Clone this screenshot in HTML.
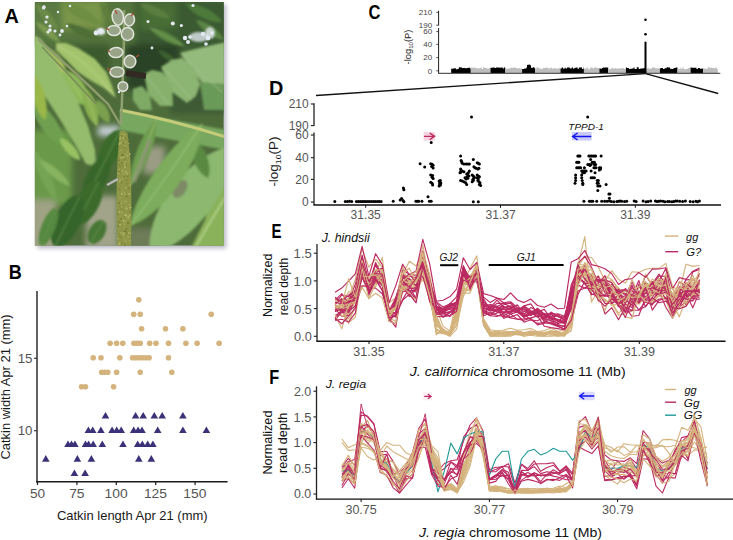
<!DOCTYPE html>
<html><head><meta charset="utf-8"><style>
html,body{margin:0;padding:0;background:#fff;width:733px;height:540px;overflow:hidden}
svg{display:block;font-family:"Liberation Sans",sans-serif}
</style></head><body>
<svg width="733" height="540" viewBox="0 0 733 540" font-family="Liberation Sans, sans-serif">
<defs><clipPath id="pc"><rect x="34.8" y="1.9" width="189" height="243.8"/></clipPath><filter id="sh" x="-10%" y="-10%" width="130%" height="130%"><feGaussianBlur stdDeviation="2"/></filter><filter id="b3" x="-20%" y="-20%" width="140%" height="140%"><feGaussianBlur stdDeviation="3"/></filter><filter id="b1" x="-20%" y="-20%" width="140%" height="140%"><feGaussianBlur stdDeviation="0.9"/></filter><filter id="b2" x="-20%" y="-20%" width="140%" height="140%"><feGaussianBlur stdDeviation="2"/></filter><filter id="b05" x="-20%" y="-20%" width="140%" height="140%"><feGaussianBlur stdDeviation="0.5"/></filter></defs>
<rect x="37.3" y="4.6" width="189" height="243.8" fill="#8c8ca4" opacity="0.6" filter="url(#sh)"/>
<g clip-path="url(#pc)">
<rect x="34.8" y="1.9" width="189" height="243.8" fill="#4e6c3a"/>
<g filter="url(#b3)">
<polygon points="30.0,0.0 230.0,0.0 230.0,46.0 30.0,46.0" fill="#55743e" opacity="1"/>
<polygon points="30.0,0.0 62.0,0.0 62.0,36.0 30.0,36.0" fill="#5a7a42" opacity="1"/>
<polygon points="62.0,0.0 104.0,0.0 104.0,28.0 62.0,30.0" fill="#7a9648" opacity="1"/>
<polygon points="135.0,0.0 230.0,0.0 230.0,48.0 135.0,52.0" fill="#3a5a30" opacity="1"/>
<polygon points="140.0,2.0 176.0,2.0 176.0,28.0 140.0,30.0" fill="#4a6e36" opacity="1"/>
<polygon points="126.0,44.0 180.0,44.0 180.0,90.0 126.0,90.0" fill="#2c4226" opacity="1"/>
<polygon points="62.0,44.0 110.0,44.0 110.0,70.0 62.0,70.0" fill="#3a5a2e" opacity="1"/>
<polygon points="170.0,88.0 226.0,88.0 226.0,114.0 170.0,114.0" fill="#3e5a36" opacity="1"/>
<polygon points="30.0,130.0 72.0,130.0 72.0,206.0 30.0,206.0" fill="#6a9a4a" opacity="1"/>
<polygon points="30.0,200.0 56.0,200.0 56.0,250.0 30.0,250.0" fill="#a0a284" opacity="1"/>
<polygon points="86.0,196.0 118.0,196.0 118.0,250.0 86.0,250.0" fill="#a2a48a" opacity="1"/>
<polygon points="126.0,228.0 158.0,228.0 158.0,250.0 126.0,250.0" fill="#6e7c58" opacity="1"/>
<polygon points="143.0,146.0 165.0,146.0 165.0,174.0 143.0,174.0" fill="#9a9c84" opacity="1"/>
<polygon points="98.0,126.0 120.0,126.0 120.0,136.0 98.0,136.0" fill="#c8d0d8" opacity="1"/>
</g>
<g filter="url(#b1)">
<path d="M36.0,4.0 C36.3,13.6 48.6,28.2 58.0,30.0 C57.7,20.4 45.4,5.8 36.0,4.0Z" fill="#6a8a48" opacity="1"/>
<path d="M62.0,2.0 C66.7,13.2 88.0,25.5 100.0,24.0 C95.3,12.8 74.0,0.5 62.0,2.0Z" fill="#6e8e42" opacity="1"/>
<path d="M150.0,28.0 C155.0,36.7 174.0,46.8 184.0,46.0 C179.0,37.3 160.0,27.2 150.0,28.0Z" fill="#5c8842" opacity="1"/>
<path d="M150.0,28.0 Q167.0,37.0 184.0,46.0" stroke="#7aa060" stroke-width="1.0" fill="none"/>
<path d="M186.0,4.0 C190.9,13.9 211.1,24.0 222.0,22.0 C217.1,12.1 196.9,2.0 186.0,4.0Z" fill="#4e7a3a" opacity="1"/>
<path d="M196.0,20.0 C199.1,28.7 214.7,39.9 224.0,40.0 C220.9,31.3 205.3,20.1 196.0,20.0Z" fill="#5a8444" opacity="1"/>
<path d="M140.0,4.0 C144.3,11.9 161.1,19.8 170.0,18.0 C165.7,10.1 148.9,2.2 140.0,4.0Z" fill="#5a7e40" opacity="1"/>
<path d="M66.0,24.0 C71.2,32.3 90.2,41.3 100.0,40.0 C94.8,31.7 75.8,22.7 66.0,24.0Z" fill="#4e6e36" opacity="1"/>
<path d="M36.0,22.0 C38.3,30.0 51.7,41.2 60.0,42.0 C57.7,34.0 44.3,22.8 36.0,22.0Z" fill="#7a9a50" opacity="1"/>
<path d="M100.0,2.0 C100.0,10.1 109.0,25.8 116.0,30.0 C116.0,21.9 107.0,6.2 100.0,2.0Z" fill="#5e7e3e" opacity="1"/>
<path d="M158.0,50.0 C160.1,56.4 171.3,64.2 178.0,64.0 C175.9,57.6 164.7,49.8 158.0,50.0Z" fill="#3e6030" opacity="1"/>
<path d="M210.0,52.0 C212.0,56.7 221.0,61.2 226.0,60.0 C224.0,55.3 215.0,50.8 210.0,52.0Z" fill="#7ea468" opacity="1"/>
<path d="M42.0,47.0 C40.2,59.2 53.6,74.9 66.0,75.0 C67.8,62.8 54.4,47.1 42.0,47.0Z" fill="#a2ba5a" opacity="1"/>
<path d="M42.0,47.0 Q54.0,61.0 66.0,75.0" stroke="#c0d080" stroke-width="1.0" fill="none"/>
<polygon points="180.0,53.0 204.0,47.0 226.0,42.0 226.0,96.0 212.0,92.0 200.0,80.0" fill="#94ba7c" opacity="1"/>
<polygon points="161.0,67.0 172.0,60.0 182.0,58.0 194.0,68.0 200.0,84.0 196.0,96.0 187.0,103.0 172.0,92.0" fill="#8cb472" opacity="1"/>
<polygon points="144.0,74.0 152.0,70.0 162.0,72.0 172.0,86.0 173.0,106.0 160.0,106.0 148.0,94.0" fill="#86b06c" opacity="1"/>
<polygon points="133.0,89.0 142.0,86.0 150.0,96.0 152.0,110.0 140.0,110.0 133.0,100.0" fill="#7eaa66" opacity="1"/>
<polygon points="200.0,82.0 226.0,84.0 226.0,110.0 204.0,110.0" fill="#6a9a58" opacity="1"/>
<path d="M182,56 L222,92 M164,68 L192,100 M146,76 L168,104" stroke="#a8c890" stroke-width="0.8" fill="none"/>
<polygon points="120.0,110.0 226.0,130.0 226.0,150.0 120.0,130.0" fill="#78a860" opacity="1"/>
<polygon points="56.0,43.0 66.0,43.0 78.0,48.0 95.0,59.0 106.0,72.0 112.0,86.0 116.0,98.0 104.0,88.0 90.0,80.0 78.0,72.0 66.0,60.0 56.0,50.0" fill="#a2c26c" opacity="1"/>
<path d="M58,46 Q90,62 114,96" stroke="#c4da92" stroke-width="1" fill="none"/>
<path d="M64.0,70.0 C58.9,84.4 71.8,104.5 87.0,106.0 C92.1,91.6 79.2,71.5 64.0,70.0Z" fill="#8cb858" opacity="1"/>
<path d="M64.0,70.0 Q75.5,88.0 87.0,106.0" stroke="#b0cc78" stroke-width="1.0" fill="none"/>
<path d="M84.0,87.0 C79.3,98.1 86.5,120.0 97.0,126.0 C101.7,114.9 94.5,93.0 84.0,87.0Z" fill="#88b050" opacity="1"/>
<path d="M84.0,87.0 Q90.5,106.5 97.0,126.0" stroke="#a8c070" stroke-width="1.0" fill="none"/>
<path d="M97.0,100.0 C93.7,108.1 100.4,121.0 109.0,123.0 C112.3,114.9 105.6,102.0 97.0,100.0Z" fill="#7aa050" opacity="1"/>
<path d="M32.0,100.0 C30.3,116.2 48.2,142.0 64.0,146.0 C65.7,129.8 47.8,104.0 32.0,100.0Z" fill="#70a050" opacity="1"/>
<path d="M60.0,138.0 C60.0,146.9 71.2,159.2 80.0,160.0 C80.0,151.1 68.8,138.8 60.0,138.0Z" fill="#98c262" opacity="1"/>
<path d="M34.0,150.0 C32.7,163.7 45.1,191.7 56.0,200.0 C57.3,186.3 44.9,158.3 34.0,150.0Z" fill="#76a454" opacity="1"/>
<path d="M40.0,160.0 C43.1,169.8 59.9,184.3 70.0,186.0 C66.9,176.2 50.1,161.7 40.0,160.0Z" fill="#88b460" opacity="1"/>
<polygon points="34.0,35.0 41.0,39.0 52.0,56.0 66.0,80.0 78.0,102.0 88.0,126.0 95.0,150.0 96.0,166.0 86.0,164.0 76.0,146.0 64.0,126.0 50.0,104.0 38.0,86.0 34.0,80.0" fill="#94bc6c" opacity="1"/>
<path d="M33.0,74.0 C27.9,86.1 34.6,111.9 45.0,120.0 C50.1,107.9 43.4,82.1 33.0,74.0Z" fill="#9ab84a" opacity="1"/>
<polygon points="226.0,150.0 226.0,250.0 190.0,250.0 205.0,220.0" fill="#8ab25a" opacity="1"/>
<path d="M234.0,146.0 C190.8,150.5 143.7,211.0 150.0,254.0 C190.1,247.0 237.1,186.6 234.0,146.0Z" fill="#8cb870" opacity="1"/>
<ellipse cx="180" cy="189" rx="6" ry="10" transform="rotate(35 180 189)" fill="#7e8a66"/>
<path d="M192.0,138.0 C186.8,150.3 195.8,172.7 208.0,178.0 C213.2,165.7 204.2,143.3 192.0,138.0Z" fill="#5a8a42" opacity="1"/>
<path d="M202.0,124.0 C173.9,137.8 133.6,194.9 130.0,226.0 C163.0,215.7 203.3,158.6 202.0,124.0Z" fill="#7cac5c" opacity="1"/>
<path d="M202.0,124.0 Q168.5,176.7 130.0,226.0" stroke="#a8c880" stroke-width="1.0" fill="none"/>
<path d="M157.0,118.0 C143.0,129.8 127.9,167.8 130.0,186.0 C144.0,174.2 159.1,136.2 157.0,118.0Z" fill="#6e9e50" opacity="1"/>
<path d="M157.0,118.0 Q143.5,152.0 130.0,186.0" stroke="#9cc070" stroke-width="1.0" fill="none"/>
<path d="M195,248 Q210,222 226,196" stroke="#b4d28a" stroke-width="1.6" fill="none"/>
<ellipse cx="110.5" cy="150" rx="22" ry="9.5" transform="rotate(116 110.5 150)" fill="#3a6a2c"/>
<path d="M120.1,130.2 L100.9,169.8" stroke="#6a9a50" stroke-width="0.8"/>
<ellipse cx="96.8" cy="177.5" rx="23" ry="10.5" transform="rotate(116 96.8 177.5)" fill="#37662a"/>
<path d="M106.9,156.8 L86.7,198.2" stroke="#6a9a50" stroke-width="0.8"/>
<ellipse cx="87.5" cy="203" rx="24" ry="11.5" transform="rotate(118 87.5 203)" fill="#3a6a2c"/>
<path d="M98.8,181.8 L76.2,224.2" stroke="#6a9a50" stroke-width="0.8"/>
<ellipse cx="67.6" cy="221" rx="28" ry="12.5" transform="rotate(116 67.6 221)" fill="#35652a"/>
<path d="M79.9,195.8 L55.3,246.2" stroke="#6a9a50" stroke-width="0.8"/>
<ellipse cx="48.5" cy="227" rx="20" ry="7" transform="rotate(112 48.5 227)" fill="#558840"/>
<path d="M56.0,208.5 L41.0,245.5" stroke="#6a9a50" stroke-width="0.8"/>
<ellipse cx="97" cy="232" rx="13" ry="8" transform="rotate(120 97 232)" fill="#467636"/>
<path d="M103.5,220.7 L90.5,243.3" stroke="#6a9a50" stroke-width="0.8"/>
<path d="M150,140 Q142,160 134,182" stroke="#8e9478" stroke-width="4" fill="none" opacity="0.8"/>
</g>
<g filter="url(#b05)">
<path d="M119.5,132 Q123,129 127.5,133 L130.5,160 Q132,200 131,246 L117.5,246 Q115.5,200 117.5,160 Z" fill="#8e9646"/>
<circle cx="119.0" cy="160.2" r="0.8" fill="#747a38"/>
<circle cx="119.2" cy="144.0" r="0.9" fill="#a4aa5a"/>
<circle cx="127.4" cy="222.9" r="0.7" fill="#a4aa5a"/>
<circle cx="119.7" cy="164.7" r="0.7" fill="#747a38"/>
<circle cx="117.8" cy="238.7" r="0.9" fill="#a4aa5a"/>
<circle cx="120.0" cy="222.8" r="0.8" fill="#a4aa5a"/>
<circle cx="125.1" cy="143.6" r="0.9" fill="#747a38"/>
<circle cx="123.7" cy="153.7" r="0.6" fill="#a4aa5a"/>
<circle cx="122.2" cy="134.8" r="1.0" fill="#a4aa5a"/>
<circle cx="124.1" cy="228.1" r="0.8" fill="#a4aa5a"/>
<circle cx="119.6" cy="181.8" r="0.8" fill="#b0b468"/>
<circle cx="123.6" cy="143.0" r="1.1" fill="#848a40"/>
<circle cx="119.4" cy="211.8" r="0.9" fill="#b0b468"/>
<circle cx="120.1" cy="179.8" r="0.9" fill="#a4aa5a"/>
<circle cx="123.2" cy="154.4" r="0.9" fill="#747a38"/>
<circle cx="118.8" cy="234.4" r="0.6" fill="#747a38"/>
<circle cx="125.1" cy="164.8" r="1.0" fill="#b0b468"/>
<circle cx="119.8" cy="170.7" r="0.8" fill="#b0b468"/>
<circle cx="118.6" cy="173.6" r="1.1" fill="#a4aa5a"/>
<circle cx="130.0" cy="215.6" r="0.6" fill="#a4aa5a"/>
<circle cx="119.5" cy="169.7" r="0.9" fill="#b0b468"/>
<circle cx="120.0" cy="166.6" r="0.8" fill="#747a38"/>
<circle cx="125.3" cy="161.8" r="0.7" fill="#b0b468"/>
<circle cx="123.4" cy="174.3" r="0.8" fill="#a4aa5a"/>
<circle cx="124.9" cy="244.7" r="0.8" fill="#747a38"/>
<circle cx="120.2" cy="181.1" r="0.6" fill="#b0b468"/>
<circle cx="125.2" cy="215.8" r="1.1" fill="#b0b468"/>
<circle cx="125.1" cy="194.6" r="0.8" fill="#b0b468"/>
<circle cx="124.3" cy="147.6" r="1.0" fill="#848a40"/>
<circle cx="120.1" cy="206.3" r="0.7" fill="#848a40"/>
<circle cx="118.0" cy="179.6" r="0.8" fill="#747a38"/>
<circle cx="123.1" cy="205.9" r="0.7" fill="#747a38"/>
<circle cx="121.8" cy="137.5" r="0.7" fill="#747a38"/>
<circle cx="122.9" cy="219.7" r="0.7" fill="#a4aa5a"/>
<circle cx="128.0" cy="139.7" r="0.9" fill="#848a40"/>
<circle cx="126.0" cy="240.9" r="1.0" fill="#b0b468"/>
<circle cx="118.7" cy="188.9" r="0.7" fill="#747a38"/>
<circle cx="126.0" cy="171.4" r="1.0" fill="#a4aa5a"/>
<circle cx="124.4" cy="224.4" r="0.9" fill="#a4aa5a"/>
<circle cx="122.6" cy="171.6" r="0.8" fill="#a4aa5a"/>
<circle cx="126.2" cy="240.8" r="0.6" fill="#747a38"/>
<circle cx="121.0" cy="219.1" r="1.0" fill="#747a38"/>
<circle cx="123.5" cy="210.4" r="0.8" fill="#848a40"/>
<circle cx="120.3" cy="237.0" r="0.6" fill="#747a38"/>
<circle cx="127.2" cy="135.5" r="0.7" fill="#848a40"/>
<circle cx="124.7" cy="231.4" r="1.0" fill="#747a38"/>
<circle cx="125.2" cy="152.0" r="1.0" fill="#848a40"/>
<circle cx="123.2" cy="235.6" r="0.6" fill="#b0b468"/>
<circle cx="128.7" cy="188.3" r="0.9" fill="#747a38"/>
<circle cx="120.2" cy="138.6" r="1.0" fill="#b0b468"/>
<circle cx="122.0" cy="167.0" r="0.6" fill="#848a40"/>
<circle cx="127.7" cy="176.3" r="0.8" fill="#747a38"/>
<circle cx="128.6" cy="218.2" r="0.8" fill="#b0b468"/>
<circle cx="125.3" cy="146.7" r="1.0" fill="#848a40"/>
<circle cx="126.7" cy="180.2" r="0.8" fill="#747a38"/>
<circle cx="129.6" cy="204.7" r="0.8" fill="#b0b468"/>
<circle cx="119.7" cy="222.6" r="1.0" fill="#747a38"/>
<circle cx="121.7" cy="212.4" r="1.0" fill="#a4aa5a"/>
<circle cx="129.3" cy="194.1" r="1.0" fill="#b0b468"/>
<circle cx="119.1" cy="205.9" r="0.7" fill="#848a40"/>
<circle cx="124.3" cy="192.4" r="0.8" fill="#a4aa5a"/>
<circle cx="127.5" cy="173.6" r="1.1" fill="#b0b468"/>
<circle cx="125.4" cy="209.1" r="0.8" fill="#848a40"/>
<circle cx="124.9" cy="220.9" r="1.1" fill="#848a40"/>
<circle cx="123.2" cy="202.0" r="0.7" fill="#a4aa5a"/>
<circle cx="121.9" cy="243.4" r="0.8" fill="#747a38"/>
<circle cx="125.6" cy="209.0" r="0.7" fill="#a4aa5a"/>
<circle cx="127.5" cy="155.9" r="0.9" fill="#b0b468"/>
<circle cx="125.4" cy="142.6" r="1.1" fill="#a4aa5a"/>
<circle cx="121.7" cy="206.6" r="0.8" fill="#b0b468"/>
<circle cx="124.3" cy="201.0" r="1.0" fill="#b0b468"/>
<circle cx="128.0" cy="222.9" r="1.1" fill="#747a38"/>
<circle cx="129.7" cy="154.2" r="0.9" fill="#b0b468"/>
<circle cx="130.1" cy="218.4" r="0.7" fill="#848a40"/>
<circle cx="127.2" cy="209.0" r="0.9" fill="#a4aa5a"/>
<circle cx="126.4" cy="228.7" r="1.0" fill="#747a38"/>
<circle cx="126.6" cy="233.6" r="0.8" fill="#747a38"/>
<circle cx="124.5" cy="216.8" r="0.9" fill="#848a40"/>
<circle cx="122.7" cy="233.8" r="0.8" fill="#a4aa5a"/>
<circle cx="122.9" cy="165.5" r="0.6" fill="#747a38"/>
<circle cx="123.5" cy="233.6" r="0.9" fill="#a4aa5a"/>
<circle cx="122.6" cy="178.9" r="0.6" fill="#b0b468"/>
<circle cx="130.0" cy="184.9" r="0.9" fill="#a4aa5a"/>
<circle cx="121.6" cy="201.0" r="0.6" fill="#a4aa5a"/>
<circle cx="125.8" cy="187.7" r="0.8" fill="#b0b468"/>
<circle cx="121.1" cy="150.5" r="0.7" fill="#b0b468"/>
<circle cx="127.3" cy="152.1" r="0.9" fill="#a4aa5a"/>
<circle cx="121.8" cy="136.1" r="1.0" fill="#747a38"/>
<circle cx="122.4" cy="137.5" r="0.7" fill="#b0b468"/>
<circle cx="125.9" cy="231.5" r="0.9" fill="#747a38"/>
<circle cx="126.0" cy="215.2" r="1.1" fill="#b0b468"/>
<circle cx="126.5" cy="196.2" r="1.0" fill="#747a38"/>
<circle cx="119.5" cy="189.8" r="1.0" fill="#848a40"/>
<circle cx="122.4" cy="190.3" r="0.7" fill="#a4aa5a"/>
<circle cx="124.5" cy="191.1" r="0.8" fill="#848a40"/>
<circle cx="122.5" cy="170.5" r="0.8" fill="#b0b468"/>
<circle cx="126.3" cy="164.9" r="0.8" fill="#747a38"/>
<circle cx="120.2" cy="143.5" r="0.9" fill="#b0b468"/>
<circle cx="124.7" cy="159.8" r="0.8" fill="#747a38"/>
<circle cx="123.4" cy="232.3" r="1.0" fill="#848a40"/>
<circle cx="119.7" cy="171.3" r="0.9" fill="#747a38"/>
<circle cx="125.2" cy="145.9" r="1.1" fill="#a4aa5a"/>
<circle cx="128.3" cy="237.3" r="0.8" fill="#b0b468"/>
<circle cx="120.3" cy="225.1" r="0.9" fill="#a4aa5a"/>
<circle cx="123.7" cy="221.1" r="1.0" fill="#b0b468"/>
<circle cx="129.1" cy="233.0" r="1.0" fill="#b0b468"/>
<circle cx="124.4" cy="201.1" r="1.1" fill="#a4aa5a"/>
<circle cx="119.8" cy="237.0" r="0.6" fill="#747a38"/>
<circle cx="125.6" cy="138.3" r="0.8" fill="#747a38"/>
<circle cx="119.0" cy="211.3" r="1.1" fill="#b0b468"/>
<circle cx="121.4" cy="141.9" r="0.7" fill="#b0b468"/>
<circle cx="130.2" cy="232.9" r="0.6" fill="#747a38"/>
<circle cx="120.9" cy="157.7" r="1.0" fill="#a4aa5a"/>
<circle cx="121.4" cy="224.6" r="0.8" fill="#848a40"/>
<circle cx="123.2" cy="137.8" r="1.1" fill="#a4aa5a"/>
<circle cx="121.2" cy="196.1" r="0.7" fill="#848a40"/>
<circle cx="120.3" cy="169.7" r="0.8" fill="#848a40"/>
<circle cx="121.1" cy="237.4" r="1.0" fill="#848a40"/>
<circle cx="129.6" cy="239.4" r="0.8" fill="#747a38"/>
<circle cx="124.1" cy="162.4" r="0.6" fill="#a4aa5a"/>
<circle cx="126.3" cy="201.6" r="0.9" fill="#a4aa5a"/>
<circle cx="128.8" cy="143.6" r="0.7" fill="#b0b468"/>
<circle cx="129.6" cy="211.8" r="0.7" fill="#747a38"/>
<circle cx="124.0" cy="232.9" r="0.7" fill="#a4aa5a"/>
<circle cx="124.6" cy="134.9" r="0.7" fill="#b0b468"/>
<circle cx="128.4" cy="161.1" r="0.7" fill="#a4aa5a"/>
<circle cx="124.9" cy="166.9" r="0.9" fill="#b0b468"/>
<circle cx="130.4" cy="207.4" r="1.0" fill="#b0b468"/>
<circle cx="127.9" cy="217.9" r="0.9" fill="#a4aa5a"/>
<circle cx="122.4" cy="137.9" r="0.8" fill="#a4aa5a"/>
<circle cx="119.6" cy="243.5" r="1.0" fill="#b0b468"/>
<circle cx="129.9" cy="240.1" r="0.9" fill="#b0b468"/>
<circle cx="120.9" cy="208.7" r="1.1" fill="#848a40"/>
<circle cx="120.9" cy="145.6" r="0.7" fill="#848a40"/>
<circle cx="123.9" cy="200.8" r="0.8" fill="#848a40"/>
<circle cx="128.4" cy="216.6" r="1.0" fill="#b0b468"/>
<circle cx="122.3" cy="154.1" r="0.7" fill="#a4aa5a"/>
<circle cx="120.0" cy="197.7" r="0.9" fill="#a4aa5a"/>
<circle cx="124.5" cy="176.6" r="0.7" fill="#747a38"/>
<circle cx="122.2" cy="155.2" r="1.1" fill="#747a38"/>
<circle cx="120.7" cy="136.4" r="0.7" fill="#a4aa5a"/>
<circle cx="124.0" cy="238.2" r="0.6" fill="#a4aa5a"/>
<circle cx="127.9" cy="222.8" r="0.7" fill="#848a40"/>
<circle cx="122.1" cy="202.5" r="0.6" fill="#747a38"/>
<circle cx="127.2" cy="183.7" r="1.1" fill="#848a40"/>
<circle cx="121.9" cy="157.5" r="0.9" fill="#b0b468"/>
<circle cx="123.8" cy="233.3" r="1.1" fill="#b0b468"/>
<circle cx="125.3" cy="154.1" r="0.9" fill="#b0b468"/>
<circle cx="117.8" cy="214.4" r="0.8" fill="#747a38"/>
<circle cx="119.2" cy="203.0" r="0.9" fill="#747a38"/>
<circle cx="121.6" cy="182.3" r="0.9" fill="#747a38"/>
<circle cx="129.6" cy="215.0" r="1.0" fill="#a4aa5a"/>
<circle cx="121.9" cy="162.6" r="0.9" fill="#747a38"/>
<circle cx="128.7" cy="174.6" r="0.7" fill="#848a40"/>
<circle cx="118.5" cy="226.0" r="0.9" fill="#747a38"/>
<circle cx="119.4" cy="243.6" r="1.0" fill="#b0b468"/>
<circle cx="122.0" cy="193.8" r="1.1" fill="#b0b468"/>
<circle cx="125.4" cy="221.1" r="0.9" fill="#a4aa5a"/>
<circle cx="121.3" cy="203.4" r="1.0" fill="#a4aa5a"/>
<circle cx="123.7" cy="157.2" r="0.7" fill="#b0b468"/>
<circle cx="121.2" cy="232.6" r="0.8" fill="#b0b468"/>
<circle cx="125.3" cy="172.5" r="1.1" fill="#a4aa5a"/>
<circle cx="123.4" cy="142.0" r="0.6" fill="#848a40"/>
<circle cx="117.9" cy="221.6" r="0.7" fill="#747a38"/>
<circle cx="120.1" cy="224.8" r="1.1" fill="#b0b468"/>
<circle cx="117.6" cy="244.8" r="0.6" fill="#a4aa5a"/>
<circle cx="124.3" cy="191.7" r="0.6" fill="#a4aa5a"/>
<circle cx="125.7" cy="208.1" r="0.9" fill="#b0b468"/>
<circle cx="118.3" cy="210.6" r="0.8" fill="#747a38"/>
<circle cx="130.0" cy="233.0" r="0.9" fill="#a4aa5a"/>
<path d="M38,39 Q75,72 108,104 L120,124" stroke="#8e9c6c" stroke-width="2.4" fill="none"/>
<path d="M42,47 Q72,78 96,104" stroke="#7c8c5c" stroke-width="1.6" fill="none"/>
<path d="M120,110 Q172,120 226,137" stroke="#c4cc7a" stroke-width="3" fill="none"/>
<path d="M126,73 L146,76" stroke="#302a20" stroke-width="6" fill="none"/>
<path d="M107,185 L118,179" stroke="#b8b8b8" stroke-width="2.5" fill="none"/>
<circle cx="43.6" cy="8" r="1.6" fill="#e4eaf2"/>
<circle cx="46" cy="22" r="1.5" fill="#e4eaf2"/>
<circle cx="50" cy="30" r="1.8" fill="#e4eaf2"/>
<circle cx="55" cy="31" r="1.6" fill="#e4eaf2"/>
<circle cx="60" cy="35" r="1.4" fill="#e4eaf2"/>
<circle cx="67" cy="26" r="1.3" fill="#e4eaf2"/>
<circle cx="58" cy="12" r="1.2" fill="#e4eaf2"/>
<circle cx="44" cy="7" r="1.8" fill="#e4eaf2"/>
<circle cx="47" cy="17" r="1.6" fill="#e4eaf2"/>
<circle cx="50" cy="26" r="1.6" fill="#e4eaf2"/>
<circle cx="48" cy="32" r="1.5" fill="#e4eaf2"/>
<circle cx="62" cy="31" r="1.9" fill="#e4eaf2"/>
<circle cx="70" cy="6" r="1.3" fill="#e4eaf2"/>
<circle cx="96" cy="33" r="2.4" fill="#e4eaf2"/>
<circle cx="101" cy="31" r="2.4" fill="#e4eaf2"/>
<circle cx="172.8" cy="23.5" r="2" fill="#e4eaf2"/>
<circle cx="181.4" cy="25.5" r="1.6" fill="#e4eaf2"/>
<circle cx="193" cy="5.5" r="1.6" fill="#e4eaf2"/>
<circle cx="148" cy="21.5" r="1.5" fill="#e4eaf2"/>
<circle cx="185" cy="38" r="2.2" fill="#e4eaf2"/>
<circle cx="188" cy="42" r="2" fill="#e4eaf2"/>
<circle cx="203" cy="34" r="2.2" fill="#e4eaf2"/>
<circle cx="208" cy="38" r="2.4" fill="#e4eaf2"/>
<circle cx="212" cy="33" r="1.8" fill="#e4eaf2"/>
<circle cx="206" cy="44" r="1.8" fill="#e4eaf2"/>
<circle cx="152" cy="48" r="1.4" fill="#e4eaf2"/>
<circle cx="190" cy="37" r="1.8" fill="#e4eaf2"/>
<circle cx="119" cy="92" r="1.2" fill="#e4eaf2"/>
<g filter="url(#b1)"><ellipse cx="100.8" cy="31.4" rx="4.5" ry="3.5" fill="#e6ecf4"/><ellipse cx="199" cy="37" rx="10" ry="5" fill="#dfe6ee" opacity="0.8"/><ellipse cx="210" cy="33" rx="5" ry="6" fill="#e6ecf4" opacity="0.8"/></g>
<path d="M124,10 L124,40 L123,70 L122,100 L121,125" stroke="#8ea070" stroke-width="2.5" fill="none"/>
<ellipse cx="129.5" cy="20" rx="5" ry="6" transform="rotate(10 129.5 20)" fill="#98a488" stroke="#e2e6dc" stroke-width="1.5"/>
<ellipse cx="117.8" cy="17" rx="5.6" ry="8.2" transform="rotate(-8 117.8 17)" fill="#98a488" stroke="#e2e6dc" stroke-width="1.5"/>
<ellipse cx="114" cy="30.5" rx="6.5" ry="5" transform="rotate(0 114 30.5)" fill="#98a488" stroke="#e2e6dc" stroke-width="1.5"/>
<ellipse cx="127.5" cy="34" rx="6.2" ry="6.4" transform="rotate(0 127.5 34)" fill="#98a488" stroke="#e2e6dc" stroke-width="1.5"/>
<ellipse cx="116" cy="52.5" rx="7" ry="5" transform="rotate(-5 116 52.5)" fill="#98a488" stroke="#e2e6dc" stroke-width="1.5"/>
<ellipse cx="130" cy="61.5" rx="5.8" ry="6.2" transform="rotate(10 130 61.5)" fill="#98a488" stroke="#e2e6dc" stroke-width="1.5"/>
<ellipse cx="117" cy="72" rx="7" ry="5" transform="rotate(0 117 72)" fill="#98a488" stroke="#e2e6dc" stroke-width="1.5"/>
<ellipse cx="122.9" cy="86.5" rx="4.8" ry="4.8" transform="rotate(0 122.9 86.5)" fill="#98a488" stroke="#e2e6dc" stroke-width="1.5"/>
<path d="M115,10 L117,14" stroke="#a8503c" stroke-width="1.4"/>
<path d="M106,28 L109,30" stroke="#a8503c" stroke-width="1.4"/>
<path d="M108,50 L110,52" stroke="#a8503c" stroke-width="1.4"/>
<path d="M108,68 L110,71" stroke="#a8503c" stroke-width="1.4"/>
<path d="M136,57 L139,55" stroke="#a8503c" stroke-width="1.4"/>
<path d="M131,16 L134,13" stroke="#a8503c" stroke-width="1.4"/>
</g>
</g>
<text x="4.50" y="23.30" font-size="20.5" fill="#000" textLength="14.34" lengthAdjust="spacingAndGlyphs" ><tspan font-weight="bold">A</tspan></text>
<text x="8.83" y="278.90" font-size="20.5" fill="#000" textLength="13.02" lengthAdjust="spacingAndGlyphs" ><tspan font-weight="bold">B</tspan></text>
<text x="368.54" y="18.60" font-size="20.5" fill="#000" textLength="11.91" lengthAdjust="spacingAndGlyphs" ><tspan font-weight="bold">C</tspan></text>
<text x="269.01" y="94.70" font-size="20.5" fill="#000" textLength="14.33" lengthAdjust="spacingAndGlyphs" ><tspan font-weight="bold">D</tspan></text>
<text x="271.52" y="237.80" font-size="20.5" fill="#000" textLength="10.03" lengthAdjust="spacingAndGlyphs" ><tspan font-weight="bold">E</tspan></text>
<text x="269.24" y="383.90" font-size="20.5" fill="#000" textLength="9.94" lengthAdjust="spacingAndGlyphs" ><tspan font-weight="bold">F</tspan></text>
<line x1="37.0" y1="291.0" x2="37.0" y2="482.5" stroke="#3a3a3a" stroke-width="1.6" />
<line x1="36.2" y1="481.8" x2="227.6" y2="481.8" stroke="#1a1a1a" stroke-width="1.4" />
<line x1="34.0" y1="358.3" x2="37.0" y2="358.3" stroke="#3a3a3a" stroke-width="1.2" />
<text x="17.70" y="362.90" font-size="13.5" fill="#555" textLength="14.87" lengthAdjust="spacingAndGlyphs" ><tspan>15</tspan></text>
<line x1="34.0" y1="430.7" x2="37.0" y2="430.7" stroke="#3a3a3a" stroke-width="1.2" />
<text x="17.70" y="435.30" font-size="13.5" fill="#555" textLength="14.79" lengthAdjust="spacingAndGlyphs" ><tspan>10</tspan></text>
<line x1="37.5" y1="481.8" x2="37.5" y2="485.0" stroke="#1a1a1a" stroke-width="1.2" />
<text x="29.91" y="497.70" font-size="13.6" fill="#555" textLength="15.15" lengthAdjust="spacingAndGlyphs" ><tspan>50</tspan></text>
<line x1="76.9" y1="481.8" x2="76.9" y2="485.0" stroke="#1a1a1a" stroke-width="1.2" />
<text x="69.16" y="497.70" font-size="13.6" fill="#555" textLength="15.38" lengthAdjust="spacingAndGlyphs" ><tspan>75</tspan></text>
<line x1="116.3" y1="481.8" x2="116.3" y2="485.0" stroke="#1a1a1a" stroke-width="1.2" />
<text x="104.51" y="497.70" font-size="13.6" fill="#555" textLength="23.07" lengthAdjust="spacingAndGlyphs" ><tspan>100</tspan></text>
<line x1="155.7" y1="481.8" x2="155.7" y2="485.0" stroke="#1a1a1a" stroke-width="1.2" />
<text x="143.91" y="497.70" font-size="13.6" fill="#555" textLength="23.14" lengthAdjust="spacingAndGlyphs" ><tspan>125</tspan></text>
<line x1="195.1" y1="481.8" x2="195.1" y2="485.0" stroke="#1a1a1a" stroke-width="1.2" />
<text x="183.31" y="497.70" font-size="13.6" fill="#555" textLength="23.07" lengthAdjust="spacingAndGlyphs" ><tspan>150</tspan></text>
<text x="56.95" y="519.70" font-size="12.8" fill="#1a1a1a" textLength="150.64" lengthAdjust="spacingAndGlyphs" ><tspan>Catkin length Apr 21 (mm)</tspan></text>
<text x="-0.65" y="0" font-size="12.8" fill="#1a1a1a" textLength="145.13" lengthAdjust="spacingAndGlyphs" transform="translate(9.60,458.90) rotate(-90)" ><tspan>Catkin width Apr 21 (mm)</tspan></text>
<circle cx="138.8" cy="299.8" r="2.8" fill="#d4b37d"/>
<circle cx="133.7" cy="314.3" r="2.8" fill="#d4b37d"/>
<circle cx="140.2" cy="314.3" r="2.8" fill="#d4b37d"/>
<circle cx="211.2" cy="314.3" r="2.8" fill="#d4b37d"/>
<circle cx="141.6" cy="328.7" r="2.8" fill="#d4b37d"/>
<circle cx="165.5" cy="328.7" r="2.8" fill="#d4b37d"/>
<circle cx="182.9" cy="328.7" r="2.8" fill="#d4b37d"/>
<circle cx="110.1" cy="343.2" r="2.8" fill="#d4b37d"/>
<circle cx="116.6" cy="343.2" r="2.8" fill="#d4b37d"/>
<circle cx="122.8" cy="343.2" r="2.8" fill="#d4b37d"/>
<circle cx="133.9" cy="343.2" r="2.8" fill="#d4b37d"/>
<circle cx="137.0" cy="343.2" r="2.8" fill="#d4b37d"/>
<circle cx="140.2" cy="343.2" r="2.8" fill="#d4b37d"/>
<circle cx="149.7" cy="343.2" r="2.8" fill="#d4b37d"/>
<circle cx="156.0" cy="343.2" r="2.8" fill="#d4b37d"/>
<circle cx="168.5" cy="343.2" r="2.8" fill="#d4b37d"/>
<circle cx="185.9" cy="343.2" r="2.8" fill="#d4b37d"/>
<circle cx="197.1" cy="343.2" r="2.8" fill="#d4b37d"/>
<circle cx="219.1" cy="343.2" r="2.8" fill="#d4b37d"/>
<circle cx="93.2" cy="357.7" r="2.8" fill="#d4b37d"/>
<circle cx="101.0" cy="357.7" r="2.8" fill="#d4b37d"/>
<circle cx="119.8" cy="357.7" r="2.8" fill="#d4b37d"/>
<circle cx="132.6" cy="357.7" r="2.8" fill="#d4b37d"/>
<circle cx="135.8" cy="357.7" r="2.8" fill="#d4b37d"/>
<circle cx="139.1" cy="357.7" r="2.8" fill="#d4b37d"/>
<circle cx="142.3" cy="357.7" r="2.8" fill="#d4b37d"/>
<circle cx="145.8" cy="357.7" r="2.8" fill="#d4b37d"/>
<circle cx="149.1" cy="357.7" r="2.8" fill="#d4b37d"/>
<circle cx="168.5" cy="357.7" r="2.8" fill="#d4b37d"/>
<circle cx="101.7" cy="372.2" r="2.8" fill="#d4b37d"/>
<circle cx="104.8" cy="372.2" r="2.8" fill="#d4b37d"/>
<circle cx="107.8" cy="372.2" r="2.8" fill="#d4b37d"/>
<circle cx="116.6" cy="372.2" r="2.8" fill="#d4b37d"/>
<circle cx="140.2" cy="372.2" r="2.8" fill="#d4b37d"/>
<circle cx="171.8" cy="372.2" r="2.8" fill="#d4b37d"/>
<circle cx="81.6" cy="386.7" r="2.8" fill="#d4b37d"/>
<circle cx="85.5" cy="386.7" r="2.8" fill="#d4b37d"/>
<circle cx="113.6" cy="386.7" r="2.8" fill="#d4b37d"/>
<path d="M101.7,418.5 L105.5,411.9 L109.3,418.5 Z" fill="#3a3179"/>
<path d="M131.8,418.5 L135.6,411.9 L139.4,418.5 Z" fill="#3a3179"/>
<path d="M139.4,418.5 L143.2,411.9 L147.0,418.5 Z" fill="#3a3179"/>
<path d="M150.5,418.5 L154.3,411.9 L158.1,418.5 Z" fill="#3a3179"/>
<path d="M158.4,418.5 L162.2,411.9 L166.0,418.5 Z" fill="#3a3179"/>
<path d="M179.1,418.5 L182.9,411.9 L186.7,418.5 Z" fill="#3a3179"/>
<path d="M84.6,433.0 L88.4,426.4 L92.2,433.0 Z" fill="#3a3179"/>
<path d="M88.9,433.0 L92.7,426.4 L96.5,433.0 Z" fill="#3a3179"/>
<path d="M97.1,433.0 L100.9,426.4 L104.7,433.0 Z" fill="#3a3179"/>
<path d="M108.3,433.0 L112.1,426.4 L115.9,433.0 Z" fill="#3a3179"/>
<path d="M112.9,433.0 L116.7,426.4 L120.5,433.0 Z" fill="#3a3179"/>
<path d="M117.4,433.0 L121.2,426.4 L125.0,433.0 Z" fill="#3a3179"/>
<path d="M129.9,433.0 L133.7,426.4 L137.5,433.0 Z" fill="#3a3179"/>
<path d="M134.3,433.0 L138.1,426.4 L141.9,433.0 Z" fill="#3a3179"/>
<path d="M138.2,433.0 L142.0,426.4 L145.8,433.0 Z" fill="#3a3179"/>
<path d="M153.9,433.0 L157.7,426.4 L161.5,433.0 Z" fill="#3a3179"/>
<path d="M179.1,433.0 L182.9,426.4 L186.7,433.0 Z" fill="#3a3179"/>
<path d="M202.6,433.0 L206.4,426.4 L210.2,433.0 Z" fill="#3a3179"/>
<path d="M64.2,447.1 L68.0,440.5 L71.8,447.1 Z" fill="#3a3179"/>
<path d="M67.7,447.1 L71.5,440.5 L75.3,447.1 Z" fill="#3a3179"/>
<path d="M71.1,447.1 L74.9,440.5 L78.7,447.1 Z" fill="#3a3179"/>
<path d="M81.7,447.1 L85.5,440.5 L89.3,447.1 Z" fill="#3a3179"/>
<path d="M84.8,447.1 L88.6,440.5 L92.4,447.1 Z" fill="#3a3179"/>
<path d="M89.4,447.1 L93.2,440.5 L97.0,447.1 Z" fill="#3a3179"/>
<path d="M98.5,447.1 L102.3,440.5 L106.1,447.1 Z" fill="#3a3179"/>
<path d="M119.2,447.1 L123.0,440.5 L126.8,447.1 Z" fill="#3a3179"/>
<path d="M133.9,447.1 L137.7,440.5 L141.5,447.1 Z" fill="#3a3179"/>
<path d="M138.5,447.1 L142.3,440.5 L146.1,447.1 Z" fill="#3a3179"/>
<path d="M143.9,447.1 L147.7,440.5 L151.5,447.1 Z" fill="#3a3179"/>
<path d="M149.1,447.1 L152.9,440.5 L156.7,447.1 Z" fill="#3a3179"/>
<path d="M42.0,461.7 L45.8,455.1 L49.6,461.7 Z" fill="#3a3179"/>
<path d="M73.6,461.7 L77.4,455.1 L81.2,461.7 Z" fill="#3a3179"/>
<path d="M87.6,461.7 L91.4,455.1 L95.2,461.7 Z" fill="#3a3179"/>
<path d="M135.0,461.7 L138.8,455.1 L142.6,461.7 Z" fill="#3a3179"/>
<path d="M147.5,461.7 L151.3,455.1 L155.1,461.7 Z" fill="#3a3179"/>
<path d="M70.6,476.0 L74.4,469.4 L78.2,476.0 Z" fill="#3a3179"/>
<path d="M81.3,476.0 L85.1,469.4 L88.9,476.0 Z" fill="#3a3179"/>
<line x1="438.6" y1="10.7" x2="438.6" y2="25.6" stroke="#222" stroke-width="1" />
<line x1="438.6" y1="28.0" x2="438.6" y2="73.7" stroke="#222" stroke-width="1" />
<line x1="436.3" y1="12.3" x2="438.6" y2="12.3" stroke="#222" stroke-width="0.8" />
<text x="418.86" y="15.10" font-size="8" fill="#444" textLength="13.35" lengthAdjust="spacingAndGlyphs" ><tspan>210</tspan></text>
<line x1="436.3" y1="25.2" x2="438.6" y2="25.2" stroke="#222" stroke-width="0.8" />
<text x="418.86" y="28.00" font-size="8" fill="#444" textLength="13.35" lengthAdjust="spacingAndGlyphs" ><tspan>190</tspan></text>
<line x1="436.3" y1="31.6" x2="438.6" y2="31.6" stroke="#222" stroke-width="0.8" />
<text x="423.30" y="34.40" font-size="8" fill="#444" textLength="8.90" lengthAdjust="spacingAndGlyphs" ><tspan>60</tspan></text>
<line x1="436.3" y1="44.4" x2="438.6" y2="44.4" stroke="#222" stroke-width="0.8" />
<text x="423.30" y="47.20" font-size="8" fill="#444" textLength="8.90" lengthAdjust="spacingAndGlyphs" ><tspan>40</tspan></text>
<line x1="436.3" y1="57.6" x2="438.6" y2="57.6" stroke="#222" stroke-width="0.8" />
<text x="423.30" y="60.40" font-size="8" fill="#444" textLength="8.90" lengthAdjust="spacingAndGlyphs" ><tspan>20</tspan></text>
<line x1="436.3" y1="70.8" x2="438.6" y2="70.8" stroke="#222" stroke-width="0.8" />
<text x="427.74" y="73.60" font-size="8" fill="#444" textLength="4.45" lengthAdjust="spacingAndGlyphs" ><tspan>0</tspan></text>
<text x="-17.4" y="0" font-size="8.3" fill="#222" textLength="34.8" lengthAdjust="spacingAndGlyphs" transform="translate(410.8,47) rotate(-90)">-log<tspan font-size="5.5" dy="1.8">10</tspan><tspan dy="-1.8">(P)</tspan></text>
<path d="M451.2,73.0 L451.2,68.7 L452.9,68.7 L452.9,68.5 L454.6,68.5 L454.6,67.9 L455.7,67.9 L455.7,69.2 L457.7,69.2 L457.7,68.7 L458.9,68.7 L458.9,67.2 L460.5,67.2 L460.5,67.5 L462.1,67.5 L462.1,67.9 L463.3,67.9 L463.3,67.9 L465.3,67.9 L465.3,68.2 L467.2,68.2 L467.2,67.9 L468.3,67.9 L468.3,67.7 L470.0,67.7 L470.0,68.6 L470.8,68.6 L470.8,73.0Z" fill="#000"/>
<path d="M470.8,73.0 L470.8,67.5 L472.4,67.5 L472.4,67.8 L474.4,67.8 L474.4,67.8 L476.5,67.8 L476.5,68.4 L478.5,68.4 L478.5,68.3 L480.6,68.3 L480.6,67.4 L481.7,67.4 L481.7,68.9 L483.0,68.9 L483.0,67.3 L484.5,67.3 L484.5,67.9 L485.9,67.9 L485.9,68.2 L487.3,68.2 L487.3,68.5 L489.0,68.5 L489.0,68.0 L490.5,68.0 L490.5,73.0Z" fill="#bdbdbd"/>
<path d="M490.5,73.0 L490.5,67.8 L492.6,67.8 L492.6,67.5 L494.8,67.5 L494.8,67.9 L496.0,67.9 L496.0,67.5 L498.2,67.5 L498.2,67.4 L499.8,67.4 L499.8,67.8 L501.1,67.8 L501.1,67.5 L502.8,67.5 L502.8,68.6 L503.9,68.6 L503.9,67.5 L505.3,67.5 L505.3,73.0Z" fill="#000"/>
<path d="M505.3,73.0 L505.3,69.0 L507.3,69.0 L507.3,68.4 L508.4,68.4 L508.4,68.6 L510.4,68.6 L510.4,67.5 L511.4,67.5 L511.4,68.0 L512.5,68.0 L512.5,67.8 L513.9,67.8 L513.9,67.4 L516.0,67.4 L516.0,68.2 L518.2,68.2 L518.2,68.6 L519.3,68.6 L519.3,68.0 L520.4,68.0 L520.4,68.8 L521.9,68.8 L521.9,68.0 L522.1,68.0 L522.1,73.0Z" fill="#bdbdbd"/>
<path d="M522.1,73.0 L522.1,69.1 L524.1,69.1 L524.1,68.6 L526.3,68.6 L526.3,67.4 L527.7,67.4 L527.7,68.3 L529.4,68.3 L529.4,67.9 L531.1,67.9 L531.1,68.1 L532.8,68.1 L532.8,67.3 L534.4,67.3 L534.4,68.3 L535.2,68.3 L535.2,73.0Z" fill="#000"/>
<path d="M535.2,73.0 L535.2,68.7 L536.6,68.7 L536.6,67.2 L538.2,67.2 L538.2,68.1 L539.2,68.1 L539.2,68.4 L540.9,68.4 L540.9,69.2 L542.6,69.2 L542.6,67.9 L543.7,67.9 L543.7,67.9 L545.3,67.9 L545.3,67.8 L546.7,67.8 L546.7,67.8 L548.6,67.8 L548.6,69.2 L549.6,69.2 L549.6,67.8 L551.8,67.8 L551.8,68.7 L553.4,68.7 L553.4,68.0 L554.7,68.0 L554.7,68.5 L556.1,68.5 L556.1,68.5 L557.8,68.5 L557.8,68.6 L559.3,68.6 L559.3,67.7 L560.3,67.7 L560.3,68.1 L560.5,68.1 L560.5,73.0Z" fill="#bdbdbd"/>
<path d="M560.5,73.0 L560.5,68.6 L561.8,68.6 L561.8,67.6 L563.1,67.6 L563.1,68.8 L564.6,68.8 L564.6,67.8 L565.7,67.8 L565.7,68.6 L567.1,68.6 L567.1,67.5 L568.6,67.5 L568.6,67.5 L569.8,67.5 L569.8,68.5 L571.6,68.5 L571.6,67.4 L573.1,67.4 L573.1,68.7 L574.3,68.7 L574.3,68.1 L575.5,68.1 L575.5,67.6 L577.5,67.6 L577.5,68.8 L578.9,68.8 L578.9,67.6 L580.6,67.6 L580.6,67.6 L582.0,67.6 L582.0,68.9 L583.4,68.9 L583.4,67.6 L583.9,67.6 L583.9,73.0Z" fill="#000"/>
<path d="M583.9,73.0 L583.9,68.5 L585.4,68.5 L585.4,68.4 L586.9,68.4 L586.9,67.4 L588.1,67.4 L588.1,69.2 L590.2,69.2 L590.2,67.4 L592.4,67.4 L592.4,68.3 L594.5,68.3 L594.5,67.3 L595.8,67.3 L595.8,67.7 L597.8,67.7 L597.8,67.9 L599.4,67.9 L599.4,73.0Z" fill="#bdbdbd"/>
<path d="M599.4,73.0 L599.4,68.6 L600.8,68.6 L600.8,68.7 L601.9,68.7 L601.9,68.0 L603.2,68.0 L603.2,67.6 L604.3,67.6 L604.3,67.4 L606.1,67.4 L606.1,67.4 L608.2,67.4 L608.2,67.4 L608.2,67.4 L608.2,73.0Z" fill="#000"/>
<path d="M608.2,73.0 L608.2,69.2 L610.1,69.2 L610.1,68.9 L611.5,68.9 L611.5,67.9 L613.1,67.9 L613.1,68.4 L615.2,68.4 L615.2,68.0 L616.6,68.0 L616.6,68.7 L618.7,68.7 L618.7,68.2 L620.6,68.2 L620.6,68.5 L621.8,68.5 L621.8,68.1 L623.8,68.1 L623.8,68.9 L625.8,68.9 L625.8,67.4 L625.9,67.4 L625.9,73.0Z" fill="#bdbdbd"/>
<path d="M625.9,73.0 L625.9,67.6 L626.9,67.6 L626.9,67.9 L628.9,67.9 L628.9,69.1 L630.3,69.1 L630.3,68.7 L631.9,68.7 L631.9,68.4 L633.5,68.4 L633.5,67.6 L634.5,67.6 L634.5,69.1 L635.6,69.1 L635.6,69.0 L636.7,69.0 L636.7,67.3 L638.7,67.3 L638.7,69.0 L640.3,69.0 L640.3,68.6 L641.7,68.6 L641.7,68.5 L643.5,68.5 L643.5,68.0 L644.9,68.0 L644.9,68.8 L645.7,68.8 L645.7,73.0Z" fill="#000"/>
<path d="M645.7,73.0 L645.7,69.0 L647.4,69.0 L647.4,67.8 L648.8,67.8 L648.8,69.0 L650.0,69.0 L650.0,68.5 L651.8,68.5 L651.8,67.6 L653.2,67.6 L653.2,67.6 L655.0,67.6 L655.0,68.3 L656.4,68.3 L656.4,68.2 L658.3,68.2 L658.3,68.4 L659.9,68.4 L659.9,73.0Z" fill="#bdbdbd"/>
<path d="M659.9,73.0 L659.9,68.3 L661.2,68.3 L661.2,68.1 L663.0,68.1 L663.0,69.1 L664.5,69.1 L664.5,68.3 L666.6,68.3 L666.6,67.3 L668.0,67.3 L668.0,67.4 L670.0,67.4 L670.0,68.7 L671.5,68.7 L671.5,69.0 L673.5,69.0 L673.5,67.9 L675.6,67.9 L675.6,67.6 L677.4,67.6 L677.4,67.7 L677.5,67.7 L677.5,73.0Z" fill="#000"/>
<path d="M677.5,73.0 L677.5,69.0 L679.2,69.0 L679.2,69.2 L680.4,69.2 L680.4,67.7 L681.4,67.7 L681.4,69.0 L682.5,69.0 L682.5,67.4 L683.8,67.4 L683.8,69.2 L685.8,69.2 L685.8,69.0 L687.8,69.0 L687.8,67.9 L689.8,67.9 L689.8,67.3 L690.6,67.3 L690.6,73.0Z" fill="#bdbdbd"/>
<path d="M690.6,73.0 L690.6,67.6 L691.6,67.6 L691.6,67.7 L693.3,67.7 L693.3,67.8 L694.4,67.8 L694.4,67.7 L696.5,67.7 L696.5,69.1 L697.9,69.1 L697.9,68.1 L699.9,68.1 L699.9,68.7 L701.1,68.7 L701.1,68.7 L702.8,68.7 L702.8,67.7 L703.1,67.7 L703.1,73.0Z" fill="#000"/>
<path d="M703.1,73.0 L703.1,68.5 L704.6,68.5 L704.6,68.5 L706.1,68.5 L706.1,69.0 L707.7,69.0 L707.7,67.3 L709.2,67.3 L709.2,67.7 L710.4,67.7 L710.4,67.8 L712.3,67.8 L712.3,67.9 L713.9,67.9 L713.9,68.2 L715.7,68.2 L715.7,67.4 L716.8,67.4 L716.8,69.0 L717.8,69.0 L717.8,73.0Z" fill="#bdbdbd"/>
<path d="M527,73 L527,65 L530,64.5 L531,66 L532,73Z" fill="#000"/>
<line x1="438.3" y1="73.3" x2="720.3" y2="73.3" stroke="#333" stroke-width="1" />
<line x1="645.5" y1="41.7" x2="645.5" y2="73.0" stroke="#000" stroke-width="2" />
<circle cx="645.5" cy="19.8" r="1.3" fill="#000"/><circle cx="645.5" cy="34.2" r="1.3" fill="#000"/>
<line x1="645.5" y1="73.6" x2="316.0" y2="95.5" stroke="#111" stroke-width="1.3" />
<line x1="645.5" y1="73.6" x2="718.2" y2="93.5" stroke="#111" stroke-width="1.3" />
<line x1="314.0" y1="103.3" x2="314.0" y2="126.0" stroke="#222" stroke-width="1.3" />
<line x1="314.0" y1="132.4" x2="314.0" y2="205.0" stroke="#222" stroke-width="1.3" />
<line x1="310.8" y1="104.0" x2="314.0" y2="104.0" stroke="#222" stroke-width="1.1" />
<text x="288.64" y="108.00" font-size="12" fill="#555" textLength="20.02" lengthAdjust="spacingAndGlyphs" ><tspan>210</tspan></text>
<line x1="310.8" y1="125.6" x2="314.0" y2="125.6" stroke="#222" stroke-width="1.1" />
<text x="288.64" y="129.90" font-size="12" fill="#555" textLength="20.02" lengthAdjust="spacingAndGlyphs" ><tspan>190</tspan></text>
<line x1="310.8" y1="135.0" x2="314.0" y2="135.0" stroke="#222" stroke-width="1.1" />
<text x="295.30" y="139.20" font-size="12" fill="#555" textLength="13.35" lengthAdjust="spacingAndGlyphs" ><tspan>60</tspan></text>
<line x1="310.8" y1="157.7" x2="314.0" y2="157.7" stroke="#222" stroke-width="1.1" />
<text x="295.30" y="161.90" font-size="12" fill="#555" textLength="13.35" lengthAdjust="spacingAndGlyphs" ><tspan>40</tspan></text>
<line x1="310.8" y1="179.4" x2="314.0" y2="179.4" stroke="#222" stroke-width="1.1" />
<text x="295.30" y="183.60" font-size="12" fill="#555" textLength="13.35" lengthAdjust="spacingAndGlyphs" ><tspan>20</tspan></text>
<line x1="310.8" y1="202.1" x2="314.0" y2="202.1" stroke="#222" stroke-width="1.1" />
<text x="301.96" y="206.20" font-size="12" fill="#555" textLength="6.67" lengthAdjust="spacingAndGlyphs" ><tspan>0</tspan></text>
<line x1="313.4" y1="205.0" x2="721.0" y2="205.0" stroke="#111" stroke-width="1.3" />
<line x1="365.7" y1="205.0" x2="365.7" y2="207.8" stroke="#111" stroke-width="1" />
<text x="350.62" y="218.60" font-size="12.4" fill="#555" textLength="30.20" lengthAdjust="spacingAndGlyphs" ><tspan>31.35</tspan></text>
<line x1="500.5" y1="205.0" x2="500.5" y2="207.8" stroke="#111" stroke-width="1" />
<text x="485.42" y="218.60" font-size="12.4" fill="#555" textLength="30.32" lengthAdjust="spacingAndGlyphs" ><tspan>31.37</tspan></text>
<line x1="635.3" y1="205.0" x2="635.3" y2="207.8" stroke="#111" stroke-width="1" />
<text x="620.22" y="218.60" font-size="12.4" fill="#555" textLength="30.26" lengthAdjust="spacingAndGlyphs" ><tspan>31.39</tspan></text>
<text x="-25" y="0" font-size="12.2" fill="#1a1a1a" textLength="50" lengthAdjust="spacingAndGlyphs" transform="translate(278,161.6) rotate(-90)">-log<tspan font-size="8" dy="2.5">10</tspan><tspan dy="-2.5">(P)</tspan></text>
<circle cx="334.8" cy="201.5" r="1.5" fill="#000"/>
<circle cx="345.3" cy="201.5" r="1.5" fill="#000"/>
<circle cx="347.5" cy="201.5" r="1.5" fill="#000"/>
<circle cx="349.5" cy="201.2" r="1.5" fill="#000"/>
<circle cx="351.7" cy="201.5" r="1.5" fill="#000"/>
<circle cx="356.4" cy="201.5" r="1.5" fill="#000"/>
<circle cx="358.3" cy="201.5" r="1.5" fill="#000"/>
<circle cx="360.2" cy="201.5" r="1.5" fill="#000"/>
<circle cx="362.1" cy="201.5" r="1.5" fill="#000"/>
<circle cx="364.0" cy="201.5" r="1.5" fill="#000"/>
<circle cx="365.9" cy="201.5" r="1.5" fill="#000"/>
<circle cx="367.8" cy="201.5" r="1.5" fill="#000"/>
<circle cx="369.7" cy="201.5" r="1.5" fill="#000"/>
<circle cx="371.6" cy="201.5" r="1.5" fill="#000"/>
<circle cx="373.5" cy="201.5" r="1.5" fill="#000"/>
<circle cx="375.4" cy="201.5" r="1.5" fill="#000"/>
<circle cx="377.3" cy="201.5" r="1.5" fill="#000"/>
<circle cx="379.2" cy="201.5" r="1.5" fill="#000"/>
<circle cx="381.1" cy="201.5" r="1.5" fill="#000"/>
<circle cx="393.2" cy="201.3" r="1.5" fill="#000"/>
<circle cx="400.2" cy="199.9" r="1.5" fill="#000"/>
<circle cx="401.6" cy="198.5" r="1.5" fill="#000"/>
<circle cx="403.0" cy="200.4" r="1.5" fill="#000"/>
<circle cx="403.9" cy="201.8" r="1.5" fill="#000"/>
<circle cx="415.9" cy="201.3" r="1.5" fill="#000"/>
<circle cx="417.3" cy="201.3" r="1.5" fill="#000"/>
<circle cx="418.7" cy="201.3" r="1.5" fill="#000"/>
<circle cx="421.9" cy="201.3" r="1.5" fill="#000"/>
<circle cx="429.4" cy="201.3" r="1.5" fill="#000"/>
<circle cx="431.2" cy="201.3" r="1.5" fill="#000"/>
<circle cx="403.4" cy="187.9" r="1.5" fill="#000"/>
<circle cx="403.9" cy="189.7" r="1.5" fill="#000"/>
<circle cx="428.0" cy="196.7" r="1.5" fill="#000"/>
<circle cx="420.1" cy="163.8" r="1.5" fill="#000"/>
<circle cx="424.7" cy="167.0" r="1.5" fill="#000"/>
<circle cx="430.7" cy="163.8" r="1.5" fill="#000"/>
<circle cx="432.1" cy="164.3" r="1.5" fill="#000"/>
<circle cx="433.1" cy="165.2" r="1.5" fill="#000"/>
<circle cx="431.7" cy="166.6" r="1.5" fill="#000"/>
<circle cx="433.1" cy="168.0" r="1.5" fill="#000"/>
<circle cx="430.7" cy="174.9" r="1.5" fill="#000"/>
<circle cx="432.6" cy="175.4" r="1.5" fill="#000"/>
<circle cx="432.1" cy="177.2" r="1.5" fill="#000"/>
<circle cx="433.1" cy="178.6" r="1.5" fill="#000"/>
<circle cx="430.7" cy="182.3" r="1.5" fill="#000"/>
<circle cx="432.1" cy="183.2" r="1.5" fill="#000"/>
<circle cx="432.6" cy="185.1" r="1.5" fill="#000"/>
<circle cx="431.2" cy="142.6" r="1.5" fill="#000"/>
<circle cx="439.1" cy="180.9" r="1.5" fill="#000"/>
<circle cx="440.0" cy="182.3" r="1.5" fill="#000"/>
<circle cx="439.5" cy="183.7" r="1.5" fill="#000"/>
<circle cx="440.5" cy="185.1" r="1.5" fill="#000"/>
<circle cx="439.1" cy="186.0" r="1.5" fill="#000"/>
<circle cx="440.3" cy="180.5" r="1.5" fill="#000"/>
<circle cx="440.8" cy="183.0" r="1.5" fill="#000"/>
<circle cx="460.6" cy="156.1" r="1.5" fill="#000"/>
<circle cx="461.1" cy="160.6" r="1.5" fill="#000"/>
<circle cx="461.7" cy="161.7" r="1.5" fill="#000"/>
<circle cx="462.2" cy="163.3" r="1.5" fill="#000"/>
<circle cx="463.9" cy="163.9" r="1.5" fill="#000"/>
<circle cx="466.1" cy="164.1" r="1.5" fill="#000"/>
<circle cx="467.8" cy="164.1" r="1.5" fill="#000"/>
<circle cx="469.4" cy="163.9" r="1.5" fill="#000"/>
<circle cx="473.3" cy="159.4" r="1.5" fill="#000"/>
<circle cx="477.2" cy="162.8" r="1.5" fill="#000"/>
<circle cx="478.3" cy="163.3" r="1.5" fill="#000"/>
<circle cx="479.4" cy="163.9" r="1.5" fill="#000"/>
<circle cx="473.9" cy="166.7" r="1.5" fill="#000"/>
<circle cx="475.0" cy="167.8" r="1.5" fill="#000"/>
<circle cx="476.1" cy="168.3" r="1.5" fill="#000"/>
<circle cx="477.8" cy="168.9" r="1.5" fill="#000"/>
<circle cx="478.9" cy="168.3" r="1.5" fill="#000"/>
<circle cx="460.6" cy="168.9" r="1.5" fill="#000"/>
<circle cx="461.1" cy="170.6" r="1.5" fill="#000"/>
<circle cx="462.2" cy="171.1" r="1.5" fill="#000"/>
<circle cx="463.9" cy="171.7" r="1.5" fill="#000"/>
<circle cx="469.4" cy="171.1" r="1.5" fill="#000"/>
<circle cx="468.3" cy="172.8" r="1.5" fill="#000"/>
<circle cx="460.0" cy="172.8" r="1.5" fill="#000"/>
<circle cx="460.6" cy="172.2" r="1.5" fill="#000"/>
<circle cx="466.7" cy="173.9" r="1.5" fill="#000"/>
<circle cx="467.8" cy="175.0" r="1.5" fill="#000"/>
<circle cx="468.9" cy="176.1" r="1.5" fill="#000"/>
<circle cx="466.7" cy="177.2" r="1.5" fill="#000"/>
<circle cx="467.8" cy="178.3" r="1.5" fill="#000"/>
<circle cx="472.2" cy="175.0" r="1.5" fill="#000"/>
<circle cx="473.3" cy="176.1" r="1.5" fill="#000"/>
<circle cx="474.4" cy="177.2" r="1.5" fill="#000"/>
<circle cx="473.9" cy="178.3" r="1.5" fill="#000"/>
<circle cx="472.8" cy="179.4" r="1.5" fill="#000"/>
<circle cx="473.3" cy="180.6" r="1.5" fill="#000"/>
<circle cx="472.2" cy="181.7" r="1.5" fill="#000"/>
<circle cx="477.2" cy="175.0" r="1.5" fill="#000"/>
<circle cx="478.3" cy="176.1" r="1.5" fill="#000"/>
<circle cx="479.4" cy="176.7" r="1.5" fill="#000"/>
<circle cx="477.2" cy="177.8" r="1.5" fill="#000"/>
<circle cx="478.3" cy="178.9" r="1.5" fill="#000"/>
<circle cx="477.8" cy="180.6" r="1.5" fill="#000"/>
<circle cx="478.9" cy="181.7" r="1.5" fill="#000"/>
<circle cx="480.0" cy="182.8" r="1.5" fill="#000"/>
<circle cx="479.4" cy="184.4" r="1.5" fill="#000"/>
<circle cx="480.6" cy="185.6" r="1.5" fill="#000"/>
<circle cx="460.6" cy="180.6" r="1.5" fill="#000"/>
<circle cx="462.2" cy="181.1" r="1.5" fill="#000"/>
<circle cx="463.9" cy="181.7" r="1.5" fill="#000"/>
<circle cx="465.6" cy="182.8" r="1.5" fill="#000"/>
<circle cx="466.7" cy="184.4" r="1.5" fill="#000"/>
<circle cx="465.0" cy="177.8" r="1.5" fill="#000"/>
<circle cx="466.1" cy="178.9" r="1.5" fill="#000"/>
<circle cx="473.3" cy="201.7" r="1.5" fill="#000"/>
<circle cx="478.3" cy="201.7" r="1.5" fill="#000"/>
<circle cx="471.5" cy="117.1" r="1.5" fill="#000"/>
<circle cx="577.8" cy="156.1" r="1.5" fill="#000"/>
<circle cx="578.9" cy="156.1" r="1.5" fill="#000"/>
<circle cx="580.0" cy="156.1" r="1.5" fill="#000"/>
<circle cx="588.9" cy="156.1" r="1.5" fill="#000"/>
<circle cx="590.2" cy="156.1" r="1.5" fill="#000"/>
<circle cx="591.5" cy="156.1" r="1.5" fill="#000"/>
<circle cx="593.0" cy="156.1" r="1.5" fill="#000"/>
<circle cx="594.4" cy="156.1" r="1.5" fill="#000"/>
<circle cx="595.6" cy="156.1" r="1.5" fill="#000"/>
<circle cx="601.1" cy="156.1" r="1.5" fill="#000"/>
<circle cx="590.6" cy="159.4" r="1.5" fill="#000"/>
<circle cx="576.7" cy="162.2" r="1.5" fill="#000"/>
<circle cx="577.8" cy="162.2" r="1.5" fill="#000"/>
<circle cx="578.9" cy="162.2" r="1.5" fill="#000"/>
<circle cx="592.2" cy="162.2" r="1.5" fill="#000"/>
<circle cx="593.3" cy="162.2" r="1.5" fill="#000"/>
<circle cx="594.4" cy="162.2" r="1.5" fill="#000"/>
<circle cx="587.8" cy="164.4" r="1.5" fill="#000"/>
<circle cx="589.4" cy="164.4" r="1.5" fill="#000"/>
<circle cx="591.1" cy="164.4" r="1.5" fill="#000"/>
<circle cx="594.4" cy="164.4" r="1.5" fill="#000"/>
<circle cx="595.6" cy="164.4" r="1.5" fill="#000"/>
<circle cx="590.0" cy="165.6" r="1.5" fill="#000"/>
<circle cx="576.7" cy="167.8" r="1.5" fill="#000"/>
<circle cx="578.0" cy="167.8" r="1.5" fill="#000"/>
<circle cx="579.3" cy="167.8" r="1.5" fill="#000"/>
<circle cx="580.6" cy="167.8" r="1.5" fill="#000"/>
<circle cx="584.4" cy="167.8" r="1.5" fill="#000"/>
<circle cx="593.9" cy="167.8" r="1.5" fill="#000"/>
<circle cx="595.0" cy="167.8" r="1.5" fill="#000"/>
<circle cx="596.1" cy="167.8" r="1.5" fill="#000"/>
<circle cx="599.4" cy="167.8" r="1.5" fill="#000"/>
<circle cx="600.6" cy="167.8" r="1.5" fill="#000"/>
<circle cx="600.6" cy="168.9" r="1.5" fill="#000"/>
<circle cx="599.4" cy="170.0" r="1.5" fill="#000"/>
<circle cx="581.7" cy="171.1" r="1.5" fill="#000"/>
<circle cx="582.8" cy="171.1" r="1.5" fill="#000"/>
<circle cx="583.9" cy="171.1" r="1.5" fill="#000"/>
<circle cx="585.0" cy="171.1" r="1.5" fill="#000"/>
<circle cx="586.1" cy="171.1" r="1.5" fill="#000"/>
<circle cx="591.1" cy="171.1" r="1.5" fill="#000"/>
<circle cx="582.8" cy="172.8" r="1.5" fill="#000"/>
<circle cx="584.4" cy="172.8" r="1.5" fill="#000"/>
<circle cx="595.0" cy="172.8" r="1.5" fill="#000"/>
<circle cx="575.6" cy="175.0" r="1.5" fill="#000"/>
<circle cx="581.7" cy="175.0" r="1.5" fill="#000"/>
<circle cx="575.6" cy="177.8" r="1.5" fill="#000"/>
<circle cx="581.7" cy="177.8" r="1.5" fill="#000"/>
<circle cx="591.1" cy="177.8" r="1.5" fill="#000"/>
<circle cx="592.8" cy="177.8" r="1.5" fill="#000"/>
<circle cx="594.4" cy="177.8" r="1.5" fill="#000"/>
<circle cx="575.6" cy="180.6" r="1.5" fill="#000"/>
<circle cx="582.2" cy="180.6" r="1.5" fill="#000"/>
<circle cx="597.2" cy="180.6" r="1.5" fill="#000"/>
<circle cx="598.3" cy="180.6" r="1.5" fill="#000"/>
<circle cx="575.0" cy="183.3" r="1.5" fill="#000"/>
<circle cx="582.8" cy="183.3" r="1.5" fill="#000"/>
<circle cx="597.2" cy="183.3" r="1.5" fill="#000"/>
<circle cx="598.3" cy="183.3" r="1.5" fill="#000"/>
<circle cx="582.8" cy="184.4" r="1.5" fill="#000"/>
<circle cx="606.1" cy="184.4" r="1.5" fill="#000"/>
<circle cx="597.8" cy="186.1" r="1.5" fill="#000"/>
<circle cx="600.0" cy="186.1" r="1.5" fill="#000"/>
<circle cx="597.8" cy="190.6" r="1.5" fill="#000"/>
<circle cx="608.9" cy="193.9" r="1.5" fill="#000"/>
<circle cx="610.0" cy="193.9" r="1.5" fill="#000"/>
<circle cx="609.4" cy="198.3" r="1.5" fill="#000"/>
<circle cx="583.9" cy="201.3" r="1.5" fill="#000"/>
<circle cx="589.4" cy="201.3" r="1.5" fill="#000"/>
<circle cx="591.1" cy="201.3" r="1.5" fill="#000"/>
<circle cx="592.8" cy="201.3" r="1.5" fill="#000"/>
<circle cx="596.7" cy="201.3" r="1.5" fill="#000"/>
<circle cx="587.7" cy="117.1" r="1.5" fill="#000"/>
<circle cx="601.7" cy="201.3" r="1.5" fill="#000"/>
<circle cx="604.6" cy="201.3" r="1.5" fill="#000"/>
<circle cx="607.0" cy="201.3" r="1.5" fill="#000"/>
<circle cx="609.4" cy="201.0" r="1.5" fill="#000"/>
<circle cx="611.4" cy="201.5" r="1.5" fill="#000"/>
<circle cx="613.9" cy="201.7" r="1.5" fill="#000"/>
<circle cx="616.9" cy="201.4" r="1.5" fill="#000"/>
<circle cx="618.6" cy="201.3" r="1.5" fill="#000"/>
<circle cx="620.2" cy="201.1" r="1.5" fill="#000"/>
<circle cx="621.7" cy="201.3" r="1.5" fill="#000"/>
<circle cx="624.5" cy="201.4" r="1.5" fill="#000"/>
<circle cx="626.7" cy="201.3" r="1.5" fill="#000"/>
<circle cx="634.2" cy="201.1" r="1.5" fill="#000"/>
<circle cx="636.1" cy="201.5" r="1.5" fill="#000"/>
<circle cx="643.1" cy="201.1" r="1.5" fill="#000"/>
<circle cx="646.0" cy="201.7" r="1.5" fill="#000"/>
<circle cx="648.1" cy="201.4" r="1.5" fill="#000"/>
<circle cx="650.7" cy="201.0" r="1.5" fill="#000"/>
<circle cx="655.4" cy="201.1" r="1.5" fill="#000"/>
<circle cx="657.0" cy="201.5" r="1.5" fill="#000"/>
<circle cx="658.8" cy="201.3" r="1.5" fill="#000"/>
<circle cx="660.6" cy="201.0" r="1.5" fill="#000"/>
<circle cx="663.0" cy="201.2" r="1.5" fill="#000"/>
<circle cx="664.9" cy="201.7" r="1.5" fill="#000"/>
<circle cx="667.6" cy="201.6" r="1.5" fill="#000"/>
<circle cx="669.4" cy="201.6" r="1.5" fill="#000"/>
<circle cx="671.8" cy="201.7" r="1.5" fill="#000"/>
<circle cx="673.7" cy="201.5" r="1.5" fill="#000"/>
<circle cx="675.6" cy="201.0" r="1.5" fill="#000"/>
<circle cx="677.3" cy="201.1" r="1.5" fill="#000"/>
<circle cx="679.7" cy="201.3" r="1.5" fill="#000"/>
<circle cx="682.6" cy="201.4" r="1.5" fill="#000"/>
<circle cx="685.4" cy="201.0" r="1.5" fill="#000"/>
<circle cx="690.2" cy="201.5" r="1.5" fill="#000"/>
<circle cx="693.1" cy="201.7" r="1.5" fill="#000"/>
<circle cx="695.9" cy="201.2" r="1.5" fill="#000"/>
<circle cx="697.5" cy="201.7" r="1.5" fill="#000"/>
<circle cx="699.4" cy="201.1" r="1.5" fill="#000"/>
<rect x="423.6" y="132" width="11.3" height="8.7" fill="#f6d3df"/>
<path d="M424,136.3 L434.6,136.3 M429.8,133.1 L434.6,136.3 L429.8,139.6" fill="none" stroke="#bb2a62" stroke-width="1.3"/>
<rect x="571.8" y="132" width="19.8" height="8.5" fill="#cacafa"/>
<path d="M591.3,136.5 L572.6,136.5 M577.6,133 L572.6,136.5 L577.6,140" fill="none" stroke="#1414ee" stroke-width="1.4"/>
<text x="568.30" y="129.50" font-size="9.4" fill="#111" textLength="35.46" lengthAdjust="spacingAndGlyphs" ><tspan font-style="italic">TPPD-1</tspan></text>
<line x1="317.0" y1="243.9" x2="317.0" y2="341.5" stroke="#222" stroke-width="1.3" />
<line x1="313.8" y1="253.2" x2="317.0" y2="253.2" stroke="#222" stroke-width="1.1" />
<text x="293.61" y="257.90" font-size="13" fill="#555" textLength="18.32" lengthAdjust="spacingAndGlyphs" ><tspan>1.5</tspan></text>
<line x1="313.8" y1="280.9" x2="317.0" y2="280.9" stroke="#222" stroke-width="1.1" />
<text x="293.62" y="285.50" font-size="13" fill="#555" textLength="18.25" lengthAdjust="spacingAndGlyphs" ><tspan>1.0</tspan></text>
<line x1="313.8" y1="308.6" x2="317.0" y2="308.6" stroke="#222" stroke-width="1.1" />
<text x="294.09" y="313.50" font-size="13" fill="#555" textLength="17.83" lengthAdjust="spacingAndGlyphs" ><tspan>0.5</tspan></text>
<line x1="313.8" y1="336.3" x2="317.0" y2="336.3" stroke="#222" stroke-width="1.1" />
<text x="294.09" y="341.00" font-size="13" fill="#555" textLength="17.76" lengthAdjust="spacingAndGlyphs" ><tspan>0.0</tspan></text>
<line x1="316.4" y1="341.2" x2="725.6" y2="341.2" stroke="#111" stroke-width="1.4" />
<line x1="369.0" y1="341.0" x2="369.0" y2="344.0" stroke="#111" stroke-width="1" />
<text x="353.35" y="355.50" font-size="13.4" fill="#555" textLength="31.33" lengthAdjust="spacingAndGlyphs" ><tspan>31.35</tspan></text>
<line x1="503.8" y1="341.0" x2="503.8" y2="344.0" stroke="#111" stroke-width="1" />
<text x="488.15" y="355.50" font-size="13.4" fill="#555" textLength="31.46" lengthAdjust="spacingAndGlyphs" ><tspan>31.37</tspan></text>
<line x1="639.3" y1="341.0" x2="639.3" y2="344.0" stroke="#111" stroke-width="1" />
<text x="623.65" y="355.50" font-size="13.4" fill="#555" textLength="31.40" lengthAdjust="spacingAndGlyphs" ><tspan>31.39</tspan></text>
<text x="409.80" y="376.40" font-size="12.3" fill="#111" textLength="215.91" lengthAdjust="spacingAndGlyphs" ><tspan font-style="italic">J. californica</tspan><tspan> chromosome 11 (Mb)</tspan></text>
<text x="-1.00" y="0" font-size="12.5" fill="#111" textLength="63.35" lengthAdjust="spacingAndGlyphs" transform="translate(272.30,315.90) rotate(-90)" ><tspan>Normalized</tspan></text>
<text x="-0.78" y="0" font-size="12.5" fill="#111" textLength="57.28" lengthAdjust="spacingAndGlyphs" transform="translate(288.00,314.40) rotate(-90)" ><tspan>read depth</tspan></text>
<text x="321.70" y="241.90" font-size="12" fill="#111" textLength="48.00" lengthAdjust="spacingAndGlyphs" ><tspan font-style="italic">J. hindsii</tspan></text>
<line x1="440.1" y1="265.2" x2="458.3" y2="265.2" stroke="#000" stroke-width="2" />
<text x="439.39" y="260.90" font-size="11" fill="#111" textLength="18.65" lengthAdjust="spacingAndGlyphs" ><tspan font-style="italic">GJ2</tspan></text>
<line x1="488.7" y1="265.1" x2="563.6" y2="265.1" stroke="#000" stroke-width="2" />
<text x="516.68" y="260.90" font-size="11" fill="#111" textLength="18.99" lengthAdjust="spacingAndGlyphs" ><tspan font-style="italic">GJ1</tspan></text>
<line x1="664.9" y1="236.1" x2="678.4" y2="236.1" stroke="#d4b37d" stroke-width="1.4" />
<line x1="665.3" y1="251.7" x2="678.2" y2="251.7" stroke="#bb2a62" stroke-width="1.4" />
<text x="686.10" y="240.50" font-size="11" fill="#111" textLength="12.13" lengthAdjust="spacingAndGlyphs" ><tspan font-style="italic">gg</tspan></text>
<text x="686.14" y="255.60" font-size="11.3" fill="#111" textLength="15.05" lengthAdjust="spacingAndGlyphs" ><tspan font-style="italic">G?</tspan></text>
<polyline points="335.1,320.0 341.8,310.0 348.6,323.6 355.3,305.0 362.1,285.7 368.8,287.1 375.6,282.1 382.3,278.5 389.1,320.4 395.8,314.2 402.6,290.3 409.3,292.8 416.1,290.7 422.8,276.3 429.6,297.3 436.3,328.7 443.1,332.7 449.8,335.9 456.6,313.7 463.3,289.9 470.1,290.0 476.8,275.6 483.6,325.0 490.3,335.9 497.1,335.3 503.8,333.2 510.6,334.4 517.3,334.7 524.0,334.7 530.8,331.6 537.5,335.2 544.3,336.2 551.0,331.6 557.8,336.3 564.5,335.9 571.3,326.3 578.0,265.2 584.8,236.6 591.5,302.1 598.3,289.9 605.0,300.5 611.8,302.4 618.5,301.2 625.3,305.0 632.0,302.3 638.8,302.7 645.5,285.7 652.3,287.0 659.0,295.2 665.8,297.3 672.5,303.3 679.3,299.4 686.0,304.0 692.8,297.3 699.5,284.5" fill="none" stroke="#d4b37d" stroke-width="1.15" stroke-linejoin="round" />
<polyline points="335.1,298.5 341.8,300.9 348.6,312.8 355.3,293.9 362.1,257.5 368.8,285.1 375.6,264.4 382.3,277.4 389.1,310.8 395.8,309.5 402.6,278.1 409.3,274.2 416.1,275.4 422.8,253.4 429.6,279.3 436.3,306.3 443.1,312.8 449.8,304.9 456.6,302.8 463.3,267.0 470.1,279.2 476.8,268.3 483.6,305.6 490.3,304.5 497.1,306.6 503.8,303.3 510.6,306.9 517.3,309.2 524.0,314.4 530.8,307.6 537.5,310.9 544.3,319.2 551.0,314.2 557.8,316.4 564.5,320.2 571.3,284.8 578.0,269.8 584.8,270.1 591.5,274.9 598.3,290.2 605.0,282.2 611.8,294.0 618.5,289.7 625.3,289.7 632.0,296.5 638.8,295.4 645.5,275.0 652.3,285.5 659.0,276.0 665.8,276.3 672.5,299.4 679.3,282.1 686.0,286.0 692.8,292.8 699.5,281.7" fill="none" stroke="#bb2a62" stroke-width="1.15" stroke-linejoin="round" />
<polyline points="335.1,308.9 341.8,305.2 348.6,298.9 355.3,290.8 362.1,264.7 368.8,289.2 375.6,278.3 382.3,281.8 389.1,317.1 395.8,307.7 402.6,282.7 409.3,279.6 416.1,287.4 422.8,265.4 429.6,287.6 436.3,326.0 443.1,329.2 449.8,334.3 456.6,315.1 463.3,283.0 470.1,286.0 476.8,265.7 483.6,322.0 490.3,335.7 497.1,332.0 503.8,332.2 510.6,333.1 517.3,330.8 524.0,333.1 530.8,332.9 537.5,332.1 544.3,333.7 551.0,333.7 557.8,335.7 564.5,333.0 571.3,319.4 578.0,267.2 584.8,266.2 591.5,280.7 598.3,289.0 605.0,276.2 611.8,279.4 618.5,290.3 625.3,300.0 632.0,302.1 638.8,293.6 645.5,274.2 652.3,285.1 659.0,288.5 665.8,293.8 672.5,298.2 679.3,299.7 686.0,288.1 692.8,280.4 699.5,275.4" fill="none" stroke="#d4b37d" stroke-width="1.15" stroke-linejoin="round" />
<polyline points="335.1,297.4 341.8,301.2 348.6,298.4 355.3,279.5 362.1,249.0 368.8,267.1 375.6,259.1 382.3,267.6 389.1,302.9 395.8,297.7 402.6,274.4 409.3,261.2 416.1,266.0 422.8,251.9 429.6,274.2 436.3,308.5 443.1,326.1 449.8,331.0 456.6,299.8 463.3,282.7 470.1,268.2 476.8,255.9 483.6,318.9 490.3,329.7 497.1,331.0 503.8,330.0 510.6,328.2 517.3,330.3 524.0,329.7 530.8,328.4 537.5,331.7 544.3,330.5 551.0,328.1 557.8,331.5 564.5,329.8 571.3,290.5 578.0,266.2 584.8,256.7 591.5,257.5 598.3,267.0 605.0,281.0 611.8,270.6 618.5,279.4 625.3,283.1 632.0,271.8 638.8,272.4 645.5,269.3 652.3,268.2 659.0,268.4 665.8,263.4 672.5,286.3 679.3,291.6 686.0,264.2 692.8,266.4 699.5,265.5" fill="none" stroke="#d4b37d" stroke-width="1.15" stroke-linejoin="round" />
<polyline points="335.1,302.5 341.8,298.5 348.6,304.8 355.3,292.6 362.1,264.0 368.8,283.1 375.6,271.5 382.3,277.6 389.1,312.2 395.8,306.7 402.6,273.1 409.3,279.4 416.1,279.9 422.8,245.0 429.6,282.0 436.3,321.2 443.1,329.0 449.8,334.1 456.6,312.0 463.3,278.6 470.1,277.2 476.8,263.7 483.6,321.1 490.3,331.7 497.1,333.2 503.8,332.5 510.6,332.5 517.3,331.1 524.0,332.8 530.8,332.8 537.5,332.3 544.3,334.1 551.0,330.8 557.8,333.4 564.5,335.4 571.3,315.5 578.0,263.7 584.8,265.5 591.5,280.2 598.3,280.0 605.0,283.3 611.8,280.1 618.5,288.3 625.3,294.1 632.0,299.5 638.8,288.0 645.5,282.3 652.3,287.0 659.0,282.6 665.8,292.2 672.5,294.4 679.3,292.6 686.0,284.7 692.8,285.0 699.5,283.5" fill="none" stroke="#d4b37d" stroke-width="1.15" stroke-linejoin="round" />
<polyline points="335.1,310.0 341.8,311.0 348.6,322.6 355.3,317.3 362.1,274.9 368.8,294.0 375.6,283.4 382.3,282.4 389.1,321.2 395.8,300.7 402.6,282.5 409.3,280.4 416.1,288.7 422.8,279.5 429.6,292.8 436.3,333.1 443.1,331.9 449.8,335.3 456.6,319.5 463.3,293.0 470.1,288.0 476.8,275.3 483.6,324.9 490.3,335.7 497.1,333.9 503.8,333.1 510.6,334.3 517.3,333.7 524.0,336.3 530.8,334.0 537.5,334.3 544.3,334.5 551.0,335.2 557.8,334.5 564.5,335.0 571.3,320.7 578.0,273.0 584.8,272.8 591.5,287.3 598.3,291.3 605.0,301.4 611.8,304.0 618.5,315.1 625.3,313.7 632.0,311.3 638.8,299.2 645.5,292.3 652.3,304.6 659.0,294.8 665.8,290.4 672.5,300.8 679.3,302.0 686.0,294.4 692.8,295.5 699.5,284.2" fill="none" stroke="#d4b37d" stroke-width="1.15" stroke-linejoin="round" />
<polyline points="335.1,297.2 341.8,302.7 348.6,301.4 355.3,284.3 362.1,255.1 368.8,281.5 375.6,273.3 382.3,268.1 389.1,308.8 395.8,307.1 402.6,269.7 409.3,274.4 416.1,281.9 422.8,255.6 429.6,278.9 436.3,307.8 443.1,312.6 449.8,303.5 456.6,305.4 463.3,271.8 470.1,282.7 476.8,269.3 483.6,301.1 490.3,308.3 497.1,303.2 503.8,303.4 510.6,303.0 517.3,312.2 524.0,305.9 530.8,303.9 537.5,313.4 544.3,317.6 551.0,312.1 557.8,316.3 564.5,319.5 571.3,292.2 578.0,280.0 584.8,274.5 591.5,276.2 598.3,280.0 605.0,279.9 611.8,282.6 618.5,294.3 625.3,297.3 632.0,285.0 638.8,300.0 645.5,282.4 652.3,291.2 659.0,281.6 665.8,268.4 672.5,299.8 679.3,294.2 686.0,290.1 692.8,291.9 699.5,280.4" fill="none" stroke="#bb2a62" stroke-width="1.15" stroke-linejoin="round" />
<polyline points="335.1,306.8 341.8,303.6 348.6,291.9 355.3,293.3 362.1,272.3 368.8,275.6 375.6,273.0 382.3,257.5 389.1,315.2 395.8,308.2 402.6,281.6 409.3,277.8 416.1,286.0 422.8,268.9 429.6,297.4 436.3,325.0 443.1,331.1 449.8,333.9 456.6,306.6 463.3,279.3 470.1,275.2 476.8,271.3 483.6,321.9 490.3,333.5 497.1,333.0 503.8,332.5 510.6,331.5 517.3,332.4 524.0,333.1 530.8,333.3 537.5,333.6 544.3,332.9 551.0,332.6 557.8,334.2 564.5,332.9 571.3,320.5 578.0,276.2 584.8,262.9 591.5,279.6 598.3,275.8 605.0,284.7 611.8,285.6 618.5,287.8 625.3,312.3 632.0,296.0 638.8,299.7 645.5,288.6 652.3,289.0 659.0,278.2 665.8,285.8 672.5,288.3 679.3,297.3 686.0,288.6 692.8,284.9 699.5,276.3" fill="none" stroke="#d4b37d" stroke-width="1.15" stroke-linejoin="round" />
<polyline points="335.1,309.6 341.8,308.0 348.6,311.3 355.3,289.7 362.1,261.5 368.8,283.3 375.6,274.2 382.3,281.9 389.1,315.7 395.8,304.4 402.6,285.7 409.3,285.6 416.1,275.2 422.8,253.1 429.6,286.3 436.3,323.1 443.1,330.6 449.8,332.0 456.6,319.2 463.3,283.6 470.1,279.0 476.8,263.7 483.6,322.8 490.3,333.4 497.1,333.6 503.8,334.4 510.6,333.2 517.3,333.0 524.0,332.6 530.8,332.7 537.5,333.7 544.3,334.1 551.0,332.1 557.8,332.8 564.5,335.0 571.3,315.5 578.0,279.6 584.8,265.4 591.5,284.9 598.3,294.0 605.0,294.3 611.8,292.7 618.5,303.4 625.3,297.6 632.0,295.8 638.8,291.8 645.5,285.0 652.3,283.7 659.0,292.8 665.8,286.8 672.5,300.8 679.3,308.8 686.0,287.0 692.8,291.9 699.5,288.8" fill="none" stroke="#d4b37d" stroke-width="1.15" stroke-linejoin="round" />
<polyline points="335.1,303.6 341.8,295.0 348.6,296.7 355.3,290.0 362.1,260.1 368.8,291.1 375.6,270.3 382.3,268.2 389.1,314.6 395.8,298.3 402.6,274.5 409.3,279.1 416.1,285.7 422.8,258.3 429.6,287.7 436.3,306.9 443.1,309.4 449.8,306.6 456.6,304.6 463.3,265.5 470.1,280.9 476.8,269.7 483.6,302.4 490.3,307.4 497.1,300.1 503.8,307.6 510.6,305.7 517.3,309.7 524.0,308.7 530.8,313.6 537.5,309.5 544.3,314.5 551.0,317.1 557.8,315.8 564.5,317.1 571.3,294.7 578.0,276.2 584.8,282.7 591.5,284.4 598.3,280.2 605.0,282.0 611.8,297.2 618.5,291.4 625.3,290.4 632.0,299.4 638.8,295.3 645.5,292.1 652.3,283.4 659.0,295.7 665.8,281.5 672.5,299.7 679.3,292.1 686.0,279.9 692.8,279.4 699.5,283.9" fill="none" stroke="#bb2a62" stroke-width="1.15" stroke-linejoin="round" />
<polyline points="335.1,311.7 341.8,301.2 348.6,295.1 355.3,291.5 362.1,260.7 368.8,285.7 375.6,277.3 382.3,275.6 389.1,310.8 395.8,297.8 402.6,277.1 409.3,284.8 416.1,279.2 422.8,264.3 429.6,294.7 436.3,307.7 443.1,311.7 449.8,305.3 456.6,301.7 463.3,271.8 470.1,281.3 476.8,272.4 483.6,298.7 490.3,310.4 497.1,309.9 503.8,304.8 510.6,303.1 517.3,310.2 524.0,306.1 530.8,310.6 537.5,314.0 544.3,314.0 551.0,313.5 557.8,314.2 564.5,320.4 571.3,300.2 578.0,268.5 584.8,272.9 591.5,282.6 598.3,281.0 605.0,285.2 611.8,297.2 618.5,296.6 625.3,288.5 632.0,296.2 638.8,280.4 645.5,302.2 652.3,293.6 659.0,283.7 665.8,287.4 672.5,302.1 679.3,291.6 686.0,295.3 692.8,271.9 699.5,269.5" fill="none" stroke="#bb2a62" stroke-width="1.15" stroke-linejoin="round" />
<polyline points="335.1,306.1 341.8,305.1 348.6,308.0 355.3,292.0 362.1,264.7 368.8,290.3 375.6,273.7 382.3,279.7 389.1,314.1 395.8,305.4 402.6,265.9 409.3,286.5 416.1,281.2 422.8,257.4 429.6,285.0 436.3,318.5 443.1,331.2 449.8,333.8 456.6,316.8 463.3,289.5 470.1,275.9 476.8,275.1 483.6,321.8 490.3,332.2 497.1,333.8 503.8,333.7 510.6,332.6 517.3,331.0 524.0,333.2 530.8,333.7 537.5,331.7 544.3,332.3 551.0,334.5 557.8,336.3 564.5,330.6 571.3,316.0 578.0,286.3 584.8,262.7 591.5,268.6 598.3,301.9 605.0,280.6 611.8,287.1 618.5,296.3 625.3,303.0 632.0,293.7 638.8,297.1 645.5,285.2 652.3,290.7 659.0,290.2 665.8,282.6 672.5,293.6 679.3,288.7 686.0,286.0 692.8,275.1 699.5,291.7" fill="none" stroke="#d4b37d" stroke-width="1.15" stroke-linejoin="round" />
<polyline points="335.1,320.4 341.8,319.3 348.6,322.0 355.3,313.1 362.1,272.1 368.8,294.0 375.6,278.6 382.3,286.2 389.1,320.3 395.8,323.9 402.6,288.5 409.3,294.2 416.1,299.6 422.8,266.1 429.6,301.4 436.3,316.4 443.1,316.7 449.8,315.6 456.6,311.1 463.3,275.3 470.1,281.8 476.8,281.7 483.6,312.2 490.3,315.7 497.1,316.4 503.8,313.5 510.6,317.1 517.3,314.5 524.0,322.2 530.8,319.8 537.5,323.4 544.3,322.5 551.0,323.9 557.8,326.4 564.5,329.0 571.3,322.6 578.0,294.5 584.8,281.2 591.5,294.8 598.3,293.1 605.0,314.0 611.8,307.7 618.5,319.7 625.3,307.4 632.0,316.3 638.8,315.5 645.5,297.7 652.3,303.9 659.0,299.0 665.8,298.4 672.5,312.8 679.3,307.1 686.0,301.6 692.8,300.6 699.5,291.6" fill="none" stroke="#bb2a62" stroke-width="1.15" stroke-linejoin="round" />
<polyline points="335.1,308.8 341.8,316.4 348.6,315.3 355.3,298.5 362.1,268.2 368.8,295.4 375.6,278.6 382.3,283.8 389.1,314.0 395.8,312.4 402.6,277.7 409.3,278.9 416.1,285.6 422.8,264.1 429.6,284.6 436.3,308.2 443.1,311.7 449.8,308.1 456.6,305.6 463.3,269.3 470.1,281.1 476.8,273.1 483.6,307.8 490.3,311.2 497.1,308.6 503.8,312.6 510.6,313.0 517.3,307.9 524.0,309.8 530.8,315.5 537.5,310.9 544.3,322.2 551.0,317.4 557.8,319.4 564.5,322.2 571.3,303.0 578.0,270.3 584.8,271.9 591.5,290.7 598.3,293.7 605.0,285.5 611.8,289.8 618.5,304.6 625.3,312.3 632.0,297.3 638.8,302.6 645.5,296.4 652.3,295.1 659.0,287.6 665.8,299.1 672.5,303.5 679.3,299.7 686.0,286.0 692.8,296.3 699.5,291.8" fill="none" stroke="#bb2a62" stroke-width="1.15" stroke-linejoin="round" />
<polyline points="335.1,308.1 341.8,311.3 348.6,301.2 355.3,292.4 362.1,269.9 368.8,287.4 375.6,275.2 382.3,275.2 389.1,318.3 395.8,315.8 402.6,287.9 409.3,290.0 416.1,291.9 422.8,256.6 429.6,292.3 436.3,302.7 443.1,310.5 449.8,306.6 456.6,303.0 463.3,267.3 470.1,279.7 476.8,270.3 483.6,304.1 490.3,306.8 497.1,307.4 503.8,306.6 510.6,308.4 517.3,312.0 524.0,306.9 530.8,313.0 537.5,311.8 544.3,309.4 551.0,319.0 557.8,320.2 564.5,323.0 571.3,302.0 578.0,268.1 584.8,273.6 591.5,279.7 598.3,297.0 605.0,285.8 611.8,296.3 618.5,306.8 625.3,304.6 632.0,307.5 638.8,284.2 645.5,299.7 652.3,287.0 659.0,292.8 665.8,288.6 672.5,313.7 679.3,286.6 686.0,296.0 692.8,290.2 699.5,281.8" fill="none" stroke="#bb2a62" stroke-width="1.15" stroke-linejoin="round" />
<polyline points="335.1,304.4 341.8,298.7 348.6,315.1 355.3,296.8 362.1,265.6 368.8,285.0 375.6,262.5 382.3,276.4 389.1,313.1 395.8,305.8 402.6,275.1 409.3,284.2 416.1,276.8 422.8,267.8 429.6,279.2 436.3,306.4 443.1,308.4 449.8,304.1 456.6,303.5 463.3,268.4 470.1,279.9 476.8,274.0 483.6,307.7 490.3,310.5 497.1,306.0 503.8,315.7 510.6,311.9 517.3,310.4 524.0,307.5 530.8,312.0 537.5,309.3 544.3,315.2 551.0,318.7 557.8,323.7 564.5,320.6 571.3,287.3 578.0,271.6 584.8,279.0 591.5,276.6 598.3,295.1 605.0,296.3 611.8,284.2 618.5,291.6 625.3,293.5 632.0,295.5 638.8,295.1 645.5,287.6 652.3,290.9 659.0,279.1 665.8,291.8 672.5,317.9 679.3,299.9 686.0,282.8 692.8,289.6 699.5,298.5" fill="none" stroke="#bb2a62" stroke-width="1.15" stroke-linejoin="round" />
<polyline points="335.1,292.2 341.8,288.1 348.6,281.1 355.3,273.9 362.1,246.4 368.8,276.2 375.6,253.7 382.3,264.7 389.1,302.7 395.8,285.6 402.6,264.2 409.3,274.8 416.1,271.0 422.8,239.4 429.6,263.7 436.3,301.2 443.1,300.3 449.8,296.8 456.6,289.2 463.3,257.8 470.1,269.5 476.8,262.5 483.6,293.6 490.3,295.5 497.1,298.1 503.8,299.5 510.6,292.9 517.3,300.0 524.0,302.6 530.8,299.1 537.5,305.5 544.3,307.3 551.0,304.0 557.8,308.7 564.5,308.2 571.3,261.9 578.0,258.8 584.8,250.5 591.5,264.6 598.3,266.2 605.0,268.8 611.8,273.7 618.5,284.5 625.3,279.5 632.0,278.6 638.8,272.5 645.5,277.4 652.3,269.1 659.0,269.0 665.8,267.7 672.5,288.8 679.3,277.6 686.0,279.4 692.8,271.2 699.5,267.9" fill="none" stroke="#bb2a62" stroke-width="1.15" stroke-linejoin="round" />
<polyline points="335.1,318.1 341.8,309.7 348.6,310.3 355.3,300.7 362.1,275.8 368.8,286.7 375.6,277.2 382.3,280.6 389.1,320.5 395.8,301.0 402.6,282.9 409.3,296.1 416.1,287.7 422.8,268.7 429.6,297.2 436.3,314.5 443.1,313.8 449.8,311.6 456.6,306.3 463.3,274.2 470.1,287.5 476.8,275.7 483.6,310.4 490.3,313.0 497.1,310.8 503.8,308.9 510.6,314.1 517.3,312.0 524.0,317.2 530.8,313.5 537.5,315.1 544.3,319.0 551.0,320.6 557.8,325.6 564.5,326.1 571.3,303.2 578.0,274.1 584.8,264.5 591.5,294.0 598.3,296.0 605.0,295.1 611.8,298.1 618.5,304.5 625.3,309.5 632.0,304.7 638.8,293.0 645.5,296.4 652.3,300.6 659.0,290.9 665.8,307.2 672.5,318.0 679.3,305.4 686.0,293.8 692.8,307.8 699.5,291.6" fill="none" stroke="#bb2a62" stroke-width="1.15" stroke-linejoin="round" />
<polyline points="335.1,304.8 341.8,312.1 348.6,318.9 355.3,308.2 362.1,262.3 368.8,285.1 375.6,287.0 382.3,269.9 389.1,318.6 395.8,320.9 402.6,287.2 409.3,281.1 416.1,280.1 422.8,261.2 429.6,295.5 436.3,332.4 443.1,333.8 449.8,335.0 456.6,324.2 463.3,287.2 470.1,291.2 476.8,276.8 483.6,324.8 490.3,336.3 497.1,335.7 503.8,336.1 510.6,335.1 517.3,333.7 524.0,334.8 530.8,334.7 537.5,333.8 544.3,334.6 551.0,332.1 557.8,335.1 564.5,335.1 571.3,330.0 578.0,277.3 584.8,272.0 591.5,282.5 598.3,293.7 605.0,290.9 611.8,296.9 618.5,300.2 625.3,310.5 632.0,300.5 638.8,304.3 645.5,297.7 652.3,293.6 659.0,278.7 665.8,285.2 672.5,305.8 679.3,301.5 686.0,288.0 692.8,282.5 699.5,280.9" fill="none" stroke="#d4b37d" stroke-width="1.15" stroke-linejoin="round" />
<polyline points="335.1,304.5 341.8,312.1 348.6,314.1 355.3,294.7 362.1,260.2 368.8,286.0 375.6,282.2 382.3,274.2 389.1,311.9 395.8,313.0 402.6,280.9 409.3,286.2 416.1,288.2 422.8,260.4 429.6,284.1 436.3,309.7 443.1,312.6 449.8,316.6 456.6,306.6 463.3,270.0 470.1,284.4 476.8,273.0 483.6,307.7 490.3,309.8 497.1,309.7 503.8,307.6 510.6,308.6 517.3,312.1 524.0,315.9 530.8,312.3 537.5,317.3 544.3,313.3 551.0,320.7 557.8,322.7 564.5,323.1 571.3,306.8 578.0,271.8 584.8,272.8 591.5,287.6 598.3,292.2 605.0,279.8 611.8,286.9 618.5,293.6 625.3,300.8 632.0,290.2 638.8,299.6 645.5,293.2 652.3,292.4 659.0,295.5 665.8,291.7 672.5,296.4 679.3,296.1 686.0,297.2 692.8,290.3 699.5,289.1" fill="none" stroke="#bb2a62" stroke-width="1.15" stroke-linejoin="round" />
<polyline points="335.1,308.0 341.8,309.6 348.6,299.7 355.3,293.7 362.1,261.6 368.8,292.6 375.6,276.7 382.3,279.5 389.1,310.1 395.8,302.3 402.6,284.1 409.3,284.3 416.1,300.1 422.8,251.1 429.6,285.0 436.3,307.5 443.1,310.8 449.8,309.4 456.6,308.1 463.3,272.6 470.1,283.4 476.8,273.6 483.6,309.2 490.3,308.4 497.1,307.2 503.8,309.6 510.6,308.6 517.3,304.8 524.0,313.8 530.8,314.0 537.5,311.2 544.3,316.6 551.0,313.2 557.8,321.8 564.5,321.7 571.3,289.3 578.0,283.5 584.8,266.3 591.5,279.6 598.3,285.5 605.0,280.7 611.8,296.3 618.5,291.2 625.3,304.0 632.0,289.7 638.8,303.2 645.5,290.2 652.3,293.2 659.0,294.1 665.8,277.7 672.5,309.0 679.3,291.6 686.0,304.8 692.8,293.6 699.5,290.6" fill="none" stroke="#bb2a62" stroke-width="1.15" stroke-linejoin="round" />
<polyline points="335.1,308.3 341.8,307.0 348.6,303.3 355.3,303.2 362.1,264.5 368.8,286.0 375.6,280.5 382.3,281.2 389.1,313.2 395.8,309.2 402.6,280.0 409.3,283.3 416.1,280.3 422.8,252.1 429.6,288.0 436.3,334.8 443.1,329.6 449.8,334.9 456.6,325.5 463.3,296.7 470.1,281.5 476.8,267.4 483.6,322.1 490.3,334.7 497.1,332.1 503.8,334.4 510.6,333.8 517.3,333.6 524.0,334.0 530.8,332.6 537.5,333.3 544.3,336.3 551.0,331.4 557.8,334.9 564.5,333.6 571.3,326.3 578.0,274.5 584.8,274.0 591.5,291.6 598.3,286.9 605.0,288.0 611.8,302.4 618.5,313.3 625.3,305.9 632.0,305.0 638.8,294.2 645.5,289.5 652.3,281.5 659.0,286.2 665.8,291.1 672.5,302.2 679.3,316.9 686.0,298.2 692.8,295.5 699.5,287.4" fill="none" stroke="#d4b37d" stroke-width="1.15" stroke-linejoin="round" />
<polyline points="335.1,300.1 341.8,293.7 348.6,303.5 355.3,291.4 362.1,259.6 368.8,282.8 375.6,264.9 382.3,278.0 389.1,313.6 395.8,300.0 402.6,278.0 409.3,275.8 416.1,278.4 422.8,257.5 429.6,281.1 436.3,301.9 443.1,307.0 449.8,304.0 456.6,296.9 463.3,267.4 470.1,279.7 476.8,269.2 483.6,297.1 490.3,302.6 497.1,298.3 503.8,302.7 510.6,301.8 517.3,307.8 524.0,311.4 530.8,313.2 537.5,308.3 544.3,313.9 551.0,316.2 557.8,313.8 564.5,316.2 571.3,292.0 578.0,263.4 584.8,256.1 591.5,267.3 598.3,283.3 605.0,275.6 611.8,297.2 618.5,289.1 625.3,295.6 632.0,282.1 638.8,295.0 645.5,287.8 652.3,283.9 659.0,274.1 665.8,285.1 672.5,296.8 679.3,289.5 686.0,284.6 692.8,287.1 699.5,273.4" fill="none" stroke="#bb2a62" stroke-width="1.15" stroke-linejoin="round" />
<polyline points="335.1,306.5 341.8,305.5 348.6,314.7 355.3,301.2 362.1,270.7 368.8,278.8 375.6,269.8 382.3,269.9 389.1,307.9 395.8,308.4 402.6,273.2 409.3,268.2 416.1,281.9 422.8,253.6 429.6,286.6 436.3,330.8 443.1,330.2 449.8,334.0 456.6,314.9 463.3,284.2 470.1,277.9 476.8,277.7 483.6,319.7 490.3,331.6 497.1,332.9 503.8,334.1 510.6,332.0 517.3,331.8 524.0,332.6 530.8,331.0 537.5,334.7 544.3,334.3 551.0,330.5 557.8,332.8 564.5,334.8 571.3,318.6 578.0,280.4 584.8,274.8 591.5,268.4 598.3,286.1 605.0,279.8 611.8,288.9 618.5,304.7 625.3,301.1 632.0,279.1 638.8,295.3 645.5,291.7 652.3,279.0 659.0,285.1 665.8,284.6 672.5,288.5 679.3,304.8 686.0,284.5 692.8,291.7 699.5,291.3" fill="none" stroke="#d4b37d" stroke-width="1.15" stroke-linejoin="round" />
<polyline points="335.1,303.5 341.8,316.1 348.6,313.1 355.3,294.3 362.1,260.4 368.8,286.7 375.6,281.1 382.3,273.3 389.1,313.5 395.8,304.9 402.6,292.7 409.3,283.5 416.1,291.2 422.8,269.4 429.6,286.3 436.3,323.6 443.1,331.7 449.8,334.3 456.6,312.5 463.3,282.4 470.1,283.0 476.8,269.2 483.6,322.8 490.3,335.4 497.1,334.0 503.8,333.7 510.6,332.2 517.3,334.7 524.0,334.9 530.8,333.0 537.5,335.1 544.3,332.8 551.0,332.4 557.8,332.6 564.5,336.3 571.3,324.4 578.0,262.6 584.8,280.9 591.5,291.9 598.3,286.9 605.0,280.8 611.8,289.7 618.5,304.6 625.3,296.9 632.0,295.6 638.8,292.2 645.5,285.8 652.3,285.7 659.0,281.8 665.8,279.4 672.5,295.2 679.3,297.6 686.0,303.2 692.8,284.8 699.5,295.4" fill="none" stroke="#d4b37d" stroke-width="1.15" stroke-linejoin="round" />
<polyline points="335.1,307.5 341.8,308.5 348.6,312.4 355.3,299.2 362.1,277.5 368.8,292.2 375.6,280.9 382.3,279.3 389.1,318.5 395.8,327.1 402.6,283.5 409.3,296.4 416.1,296.3 422.8,270.4 429.6,284.4 436.3,312.8 443.1,312.3 449.8,312.4 456.6,310.9 463.3,272.6 470.1,283.6 476.8,278.2 483.6,314.1 490.3,305.0 497.1,306.9 503.8,312.6 510.6,311.4 517.3,312.3 524.0,313.8 530.8,320.0 537.5,320.8 544.3,317.1 551.0,317.8 557.8,320.8 564.5,323.1 571.3,309.1 578.0,273.3 584.8,269.5 591.5,284.4 598.3,285.3 605.0,288.3 611.8,303.5 618.5,294.1 625.3,312.2 632.0,310.4 638.8,291.2 645.5,306.8 652.3,297.4 659.0,287.5 665.8,288.1 672.5,315.2 679.3,307.7 686.0,292.8 692.8,289.9 699.5,291.1" fill="none" stroke="#bb2a62" stroke-width="1.15" stroke-linejoin="round" />
<polyline points="335.1,319.8 341.8,312.1 348.6,309.6 355.3,296.5 362.1,272.2 368.8,287.8 375.6,288.1 382.3,293.7 389.1,313.7 395.8,317.2 402.6,291.7 409.3,290.7 416.1,299.3 422.8,269.6 429.6,300.1 436.3,311.8 443.1,316.6 449.8,312.4 456.6,306.7 463.3,272.3 470.1,289.2 476.8,275.8 483.6,310.2 490.3,315.3 497.1,313.0 503.8,312.0 510.6,311.0 517.3,309.1 524.0,315.9 530.8,315.2 537.5,311.5 544.3,320.5 551.0,323.3 557.8,324.6 564.5,326.6 571.3,308.1 578.0,277.9 584.8,283.7 591.5,294.5 598.3,293.0 605.0,303.4 611.8,303.5 618.5,298.8 625.3,307.2 632.0,310.2 638.8,310.2 645.5,301.9 652.3,305.0 659.0,289.3 665.8,285.2 672.5,310.2 679.3,299.0 686.0,298.7 692.8,291.7 699.5,289.6" fill="none" stroke="#bb2a62" stroke-width="1.15" stroke-linejoin="round" />
<polyline points="335.1,315.6 341.8,311.7 348.6,304.5 355.3,295.8 362.1,267.6 368.8,290.9 375.6,278.7 382.3,284.2 389.1,317.9 395.8,311.9 402.6,279.9 409.3,291.3 416.1,290.1 422.8,261.5 429.6,295.3 436.3,309.7 443.1,313.1 449.8,308.0 456.6,307.6 463.3,273.2 470.1,278.9 476.8,269.2 483.6,306.4 490.3,307.0 497.1,312.4 503.8,309.1 510.6,309.9 517.3,311.1 524.0,316.8 530.8,313.6 537.5,313.3 544.3,314.4 551.0,318.4 557.8,320.6 564.5,320.8 571.3,294.4 578.0,285.1 584.8,288.0 591.5,284.1 598.3,279.5 605.0,280.9 611.8,290.7 618.5,304.3 625.3,299.9 632.0,305.0 638.8,292.7 645.5,293.7 652.3,281.7 659.0,296.0 665.8,277.6 672.5,313.9 679.3,293.7 686.0,290.6 692.8,298.4 699.5,299.5" fill="none" stroke="#bb2a62" stroke-width="1.15" stroke-linejoin="round" />
<polyline points="335.1,299.8 341.8,305.9 348.6,299.6 355.3,298.9 362.1,261.4 368.8,283.5 375.6,280.7 382.3,270.0 389.1,316.1 395.8,306.5 402.6,286.4 409.3,288.7 416.1,278.4 422.8,267.5 429.6,297.3 436.3,324.8 443.1,332.0 449.8,333.3 456.6,307.4 463.3,284.0 470.1,277.9 476.8,265.9 483.6,321.8 490.3,333.2 497.1,330.9 503.8,333.2 510.6,331.6 517.3,332.4 524.0,334.5 530.8,331.1 537.5,332.5 544.3,332.4 551.0,331.2 557.8,331.4 564.5,335.2 571.3,317.2 578.0,274.0 584.8,273.8 591.5,273.7 598.3,285.3 605.0,286.6 611.8,301.0 618.5,301.0 625.3,297.4 632.0,297.7 638.8,294.3 645.5,285.5 652.3,289.3 659.0,292.9 665.8,273.8 672.5,303.1 679.3,288.8 686.0,283.6 692.8,278.4 699.5,285.7" fill="none" stroke="#d4b37d" stroke-width="1.15" stroke-linejoin="round" />
<polyline points="335.1,306.0 341.8,309.0 348.6,305.9 355.3,302.5 362.1,268.1 368.8,298.8 375.6,283.4 382.3,277.0 389.1,318.0 395.8,306.8 402.6,289.5 409.3,284.3 416.1,282.7 422.8,268.7 429.6,292.9 436.3,315.1 443.1,331.8 449.8,334.6 456.6,320.6 463.3,284.6 470.1,282.1 476.8,266.4 483.6,321.9 490.3,334.3 497.1,333.7 503.8,335.4 510.6,334.4 517.3,334.1 524.0,333.0 530.8,332.0 537.5,332.4 544.3,332.8 551.0,332.9 557.8,331.5 564.5,334.4 571.3,322.6 578.0,276.8 584.8,263.4 591.5,280.3 598.3,292.7 605.0,287.5 611.8,285.5 618.5,298.4 625.3,301.6 632.0,290.3 638.8,286.6 645.5,281.3 652.3,295.7 659.0,286.9 665.8,285.2 672.5,313.8 679.3,287.8 686.0,289.8 692.8,290.0 699.5,269.6" fill="none" stroke="#d4b37d" stroke-width="1.15" stroke-linejoin="round" />
<polyline points="335.1,311.4 341.8,309.0 348.6,311.4 355.3,305.9 362.1,285.8 368.8,286.2 375.6,278.6 382.3,290.2 389.1,321.1 395.8,313.9 402.6,299.6 409.3,287.9 416.1,289.4 422.8,276.0 429.6,300.2 436.3,308.5 443.1,317.4 449.8,312.8 456.6,308.6 463.3,280.0 470.1,282.9 476.8,272.9 483.6,312.1 490.3,315.7 497.1,309.2 503.8,318.4 510.6,314.1 517.3,319.1 524.0,320.3 530.8,318.3 537.5,324.9 544.3,323.2 551.0,322.0 557.8,326.3 564.5,329.0 571.3,297.6 578.0,275.5 584.8,283.9 591.5,281.8 598.3,290.3 605.0,296.1 611.8,295.2 618.5,305.1 625.3,312.0 632.0,294.0 638.8,302.3 645.5,287.4 652.3,310.1 659.0,300.4 665.8,297.6 672.5,313.0 679.3,303.2 686.0,290.9 692.8,291.1 699.5,291.7" fill="none" stroke="#bb2a62" stroke-width="1.15" stroke-linejoin="round" />
<polyline points="335.1,302.4 341.8,303.8 348.6,302.5 355.3,298.3 362.1,263.2 368.8,281.1 375.6,273.5 382.3,274.1 389.1,309.6 395.8,305.6 402.6,281.1 409.3,287.7 416.1,278.5 422.8,261.3 429.6,286.2 436.3,307.7 443.1,308.5 449.8,305.6 456.6,304.3 463.3,269.4 470.1,277.1 476.8,273.5 483.6,305.1 490.3,310.2 497.1,311.8 503.8,312.5 510.6,307.5 517.3,309.3 524.0,317.6 530.8,311.9 537.5,313.0 544.3,318.7 551.0,317.0 557.8,321.1 564.5,317.1 571.3,300.9 578.0,264.7 584.8,279.0 591.5,286.4 598.3,276.1 605.0,292.9 611.8,293.5 618.5,303.7 625.3,298.1 632.0,287.4 638.8,295.4 645.5,289.8 652.3,288.0 659.0,290.2 665.8,290.7 672.5,304.4 679.3,295.7 686.0,299.3 692.8,300.8 699.5,279.5" fill="none" stroke="#bb2a62" stroke-width="1.15" stroke-linejoin="round" />
<polyline points="335.1,314.8 341.8,328.8 348.6,304.0 355.3,301.6 362.1,287.2 368.8,298.5 375.6,293.3 382.3,298.0 389.1,321.5 395.8,323.7 402.6,285.5 409.3,294.0 416.1,300.0 422.8,272.2 429.6,295.6 436.3,330.2 443.1,332.8 449.8,336.3 456.6,329.1 463.3,293.0 470.1,293.1 476.8,275.2 483.6,325.4 490.3,336.2 497.1,336.0 503.8,336.1 510.6,336.3 517.3,333.3 524.0,336.3 530.8,335.2 537.5,336.3 544.3,336.2 551.0,336.3 557.8,335.7 564.5,334.8 571.3,330.7 578.0,285.8 584.8,271.8 591.5,289.7 598.3,297.1 605.0,299.1 611.8,305.4 618.5,304.0 625.3,317.0 632.0,318.4 638.8,294.5 645.5,301.6 652.3,301.9 659.0,295.7 665.8,299.9 672.5,318.4 679.3,306.4 686.0,305.7 692.8,293.2 699.5,296.9" fill="none" stroke="#d4b37d" stroke-width="1.15" stroke-linejoin="round" />
<polyline points="335.1,308.3 341.8,305.3 348.6,278.7 355.3,297.1 362.1,276.7 368.8,276.3 375.6,274.9 382.3,283.6 389.1,311.3 395.8,307.5 402.6,281.4 409.3,275.7 416.1,271.8 422.8,259.1 429.6,279.4 436.3,316.2 443.1,332.1 449.8,334.3 456.6,314.0 463.3,291.8 470.1,282.6 476.8,264.6 483.6,321.5 490.3,333.0 497.1,335.2 503.8,331.1 510.6,332.0 517.3,332.3 524.0,333.1 530.8,333.9 537.5,334.7 544.3,335.0 551.0,330.5 557.8,334.6 564.5,334.0 571.3,319.4 578.0,269.4 584.8,267.1 591.5,277.0 598.3,295.5 605.0,310.7 611.8,291.5 618.5,295.3 625.3,291.1 632.0,297.7 638.8,296.7 645.5,284.4 652.3,300.2 659.0,295.1 665.8,293.8 672.5,299.0 679.3,281.5 686.0,284.8 692.8,279.5 699.5,282.7" fill="none" stroke="#d4b37d" stroke-width="1.15" stroke-linejoin="round" />
<polyline points="335.1,318.2 341.8,323.8 348.6,316.1 355.3,308.1 362.1,276.4 368.8,291.2 375.6,279.7 382.3,290.7 389.1,318.0 395.8,315.8 402.6,300.2 409.3,294.1 416.1,302.8 422.8,266.1 429.6,290.5 436.3,314.1 443.1,313.7 449.8,315.7 456.6,311.5 463.3,272.5 470.1,287.2 476.8,278.0 483.6,315.8 490.3,313.0 497.1,315.2 503.8,316.4 510.6,317.9 517.3,319.2 524.0,318.9 530.8,317.9 537.5,315.9 544.3,326.3 551.0,327.6 557.8,328.6 564.5,329.7 571.3,320.2 578.0,291.1 584.8,287.9 591.5,288.9 598.3,300.0 605.0,306.1 611.8,298.9 618.5,304.7 625.3,317.6 632.0,300.6 638.8,309.9 645.5,306.5 652.3,297.7 659.0,302.7 665.8,301.1 672.5,307.8 679.3,308.7 686.0,306.4 692.8,296.2 699.5,295.6" fill="none" stroke="#bb2a62" stroke-width="1.15" stroke-linejoin="round" />
<line x1="316.5" y1="386.3" x2="316.5" y2="499.5" stroke="#222" stroke-width="1.3" />
<line x1="313.4" y1="391.2" x2="316.5" y2="391.2" stroke="#222" stroke-width="1.1" />
<text x="293.88" y="396.10" font-size="12.5" fill="#555" textLength="17.36" lengthAdjust="spacingAndGlyphs" ><tspan>2.0</tspan></text>
<line x1="313.4" y1="416.9" x2="316.5" y2="416.9" stroke="#222" stroke-width="1.1" />
<text x="293.54" y="421.50" font-size="12.5" fill="#555" textLength="17.77" lengthAdjust="spacingAndGlyphs" ><tspan>1.5</tspan></text>
<line x1="313.4" y1="442.6" x2="316.5" y2="442.6" stroke="#222" stroke-width="1.1" />
<text x="293.54" y="447.30" font-size="12.5" fill="#555" textLength="17.70" lengthAdjust="spacingAndGlyphs" ><tspan>1.0</tspan></text>
<line x1="313.4" y1="468.3" x2="316.5" y2="468.3" stroke="#222" stroke-width="1.1" />
<text x="294.00" y="472.70" font-size="12.5" fill="#555" textLength="17.30" lengthAdjust="spacingAndGlyphs" ><tspan>0.5</tspan></text>
<line x1="313.4" y1="494.0" x2="316.5" y2="494.0" stroke="#222" stroke-width="1.1" />
<text x="294.00" y="498.30" font-size="12.5" fill="#555" textLength="17.23" lengthAdjust="spacingAndGlyphs" ><tspan>0.0</tspan></text>
<line x1="315.9" y1="499.1" x2="733.0" y2="499.1" stroke="#111" stroke-width="1.4" />
<line x1="361.1" y1="499.0" x2="361.1" y2="502.0" stroke="#111" stroke-width="1" />
<text x="345.40" y="513.80" font-size="13" fill="#555" textLength="31.44" lengthAdjust="spacingAndGlyphs" ><tspan>30.75</tspan></text>
<line x1="489.4" y1="499.0" x2="489.4" y2="502.0" stroke="#111" stroke-width="1" />
<text x="473.70" y="513.80" font-size="13" fill="#555" textLength="31.57" lengthAdjust="spacingAndGlyphs" ><tspan>30.77</tspan></text>
<line x1="617.6" y1="499.0" x2="617.6" y2="502.0" stroke="#111" stroke-width="1" />
<text x="601.90" y="513.80" font-size="13" fill="#555" textLength="31.50" lengthAdjust="spacingAndGlyphs" ><tspan>30.79</tspan></text>
<text x="418.90" y="536.80" font-size="12.6" fill="#111" textLength="183.06" lengthAdjust="spacingAndGlyphs" ><tspan font-style="italic">J. regia</tspan><tspan> chromosome 11 (Mb)</tspan></text>
<text x="-1.01" y="0" font-size="12.5" fill="#111" textLength="64.07" lengthAdjust="spacingAndGlyphs" transform="translate(271.90,473.60) rotate(-90)" ><tspan>Normalized</tspan></text>
<text x="-0.82" y="0" font-size="12.5" fill="#111" textLength="60.16" lengthAdjust="spacingAndGlyphs" transform="translate(287.30,472.10) rotate(-90)" ><tspan>read depth</tspan></text>
<text x="325.70" y="387.70" font-size="11.8" fill="#111" textLength="40.52" lengthAdjust="spacingAndGlyphs" ><tspan font-style="italic">J. regia</tspan></text>
<rect x="423" y="392.3" width="9" height="8" fill="#fdf0f4"/>
<path d="M424.2,396.4 L431.2,396.4 M427.8,394 L431.2,396.4 L427.8,398.8" fill="none" stroke="#bb2a62" stroke-width="1.1"/>
<rect x="578.8" y="391.8" width="15.9" height="8.4" fill="#dcdcfa"/>
<path d="M594.3,396 L579.6,396 M584.2,392.8 L579.6,396 L584.2,399.2" fill="none" stroke="#1414ee" stroke-width="1.3"/>
<line x1="665.1" y1="389.5" x2="676.1" y2="389.5" stroke="#d4b37d" stroke-width="1.4" />
<text x="684.40" y="393.90" font-size="11.2" fill="#111" textLength="12.13" lengthAdjust="spacingAndGlyphs" ><tspan font-style="italic">gg</tspan></text>
<line x1="665.1" y1="402.2" x2="676.1" y2="402.2" stroke="#bb2a62" stroke-width="1.4" />
<text x="683.81" y="406.60" font-size="11.2" fill="#111" textLength="15.69" lengthAdjust="spacingAndGlyphs" ><tspan font-style="italic">Gg</tspan></text>
<line x1="665.1" y1="415.2" x2="676.1" y2="415.2" stroke="#1f9a9b" stroke-width="1.4" />
<text x="683.80" y="419.20" font-size="11.2" fill="#111" textLength="18.58" lengthAdjust="spacingAndGlyphs" ><tspan font-style="italic">GG</tspan></text>
<polyline points="341.9,481.0 348.3,478.7 354.7,484.4 361.1,443.4 367.5,446.4 373.9,450.6 380.3,468.0 386.7,476.9 393.2,485.0 399.6,486.5 406.0,477.4 412.4,470.6 418.8,456.8 425.2,439.7 431.6,459.5 438.0,480.6 444.4,491.1 450.8,487.3 457.2,492.2 463.7,478.2 470.1,463.0 476.5,433.8 482.9,455.4 489.3,489.9 495.7,490.5 502.1,491.7 508.5,493.0 514.9,492.0 521.4,493.0 527.8,493.0 534.2,493.0 540.6,491.0 547.0,492.5 553.4,492.9 559.8,491.6 566.2,491.9 572.6,485.6 579.0,450.2 585.5,433.8 591.9,443.2 598.3,429.6 604.7,475.3 611.1,479.7 617.5,484.1 623.9,475.7 630.3,476.8 636.7,477.0 643.1,448.5 649.5,463.7 656.0,477.0 662.4,472.9 668.8,479.3 675.2,473.2 681.6,450.3 688.0,452.1 694.4,442.0 700.8,451.7 707.2,482.9" fill="none" stroke="#d4b37d" stroke-width="1.1" stroke-linejoin="round" />
<polyline points="341.9,474.4 348.3,465.8 354.7,471.6 361.1,430.5 367.5,434.0 373.9,439.5 380.3,468.7 386.7,470.5 393.2,477.1 399.6,481.7 406.0,478.7 412.4,478.0 418.8,444.0 425.2,439.3 431.6,470.9 438.0,484.7 444.4,483.6 450.8,468.1 457.2,475.5 463.7,458.2 470.1,442.5 476.5,437.6 482.9,447.7 489.3,478.9 495.7,475.0 502.1,472.4 508.5,480.1 514.9,493.0 521.4,475.7 527.8,472.4 534.2,475.7 540.6,475.1 547.0,475.9 553.4,473.4 559.8,472.4 566.2,466.0 572.6,480.4 579.0,439.5 585.5,433.5 591.9,442.3 598.3,435.3 604.7,475.9 611.1,476.2 617.5,473.5 623.9,470.2 630.3,473.4 636.7,486.0 643.1,447.5 649.5,452.3 656.0,475.8 662.4,475.6 668.8,461.4 675.2,464.6 681.6,446.2 688.0,459.1 694.4,424.2 700.8,454.2 707.2,478.0" fill="none" stroke="#bb2a62" stroke-width="1.1" stroke-linejoin="round" />
<polyline points="341.9,467.0 348.3,458.4 354.7,465.1 361.1,411.9 367.5,416.8 373.9,424.3 380.3,451.4 386.7,451.5 393.2,461.6 399.6,474.9 406.0,465.3 412.4,452.8 418.8,428.5 425.2,418.8 431.6,455.7 438.0,470.8 444.4,463.5 450.8,460.8 457.2,459.7 463.7,440.6 470.1,425.0 476.5,417.9 482.9,430.7 489.3,469.7 495.7,467.2 502.1,467.3 508.5,463.7 514.9,483.0 521.4,464.4 527.8,470.3 534.2,464.0 540.6,463.7 547.0,463.6 553.4,462.7 559.8,471.0 566.2,466.2 572.6,473.4 579.0,422.6 585.5,416.7 591.9,431.9 598.3,418.7 604.7,454.8 611.1,459.9 617.5,460.8 623.9,461.4 630.3,457.8 636.7,463.6 643.1,430.7 649.5,438.5 656.0,457.8 662.4,463.1 668.8,460.3 675.2,452.5 681.6,437.6 688.0,436.0 694.4,420.6 700.8,445.5 707.2,463.2" fill="none" stroke="#bb2a62" stroke-width="1.1" stroke-linejoin="round" />
<polyline points="341.9,471.3 348.3,461.3 354.7,469.5 361.1,435.0 367.5,426.4 373.9,434.0 380.3,458.2 386.7,467.5 393.2,476.0 399.6,480.4 406.0,464.9 412.4,460.8 418.8,441.3 425.2,433.2 431.6,451.1 438.0,468.7 444.4,488.7 450.8,487.6 457.2,491.3 463.7,464.4 470.1,448.9 476.5,423.7 482.9,438.9 489.3,489.0 495.7,489.7 502.1,489.8 508.5,492.4 514.9,490.7 521.4,491.4 527.8,490.8 534.2,491.5 540.6,491.4 547.0,489.6 553.4,490.4 559.8,489.7 566.2,488.6 572.6,484.0 579.0,438.1 585.5,434.2 591.9,439.6 598.3,428.0 604.7,468.6 611.1,474.2 617.5,469.7 623.9,465.7 630.3,462.8 636.7,471.8 643.1,450.5 649.5,448.5 656.0,468.5 662.4,467.5 668.8,463.5 675.2,463.5 681.6,444.0 688.0,444.0 694.4,422.9 700.8,438.1 707.2,478.2" fill="none" stroke="#d4b37d" stroke-width="1.1" stroke-linejoin="round" />
<polyline points="341.9,481.3 348.3,468.7 354.7,483.6 361.1,431.3 367.5,434.0 373.9,439.1 380.3,460.4 386.7,465.0 393.2,474.9 399.6,490.6 406.0,480.4 412.4,474.2 418.8,448.3 425.2,433.3 431.6,473.8 438.0,477.2 444.4,480.1 450.8,471.7 457.2,474.3 463.7,452.2 470.1,436.7 476.5,440.8 482.9,438.8 489.3,480.1 495.7,475.6 502.1,475.4 508.5,478.6 514.9,493.0 521.4,474.1 527.8,477.0 534.2,474.0 540.6,481.5 547.0,474.2 553.4,476.1 559.8,477.5 566.2,474.4 572.6,479.7 579.0,445.8 585.5,435.3 591.9,442.6 598.3,437.9 604.7,470.7 611.1,476.9 617.5,473.3 623.9,479.3 630.3,474.2 636.7,484.9 643.1,449.5 649.5,459.1 656.0,470.3 662.4,480.7 668.8,476.3 675.2,462.5 681.6,450.6 688.0,457.9 694.4,430.0 700.8,454.3 707.2,478.2" fill="none" stroke="#bb2a62" stroke-width="1.1" stroke-linejoin="round" />
<polyline points="341.9,468.6 348.3,461.5 354.7,459.4 361.1,415.3 367.5,416.0 373.9,423.5 380.3,455.4 386.7,454.2 393.2,474.2 399.6,471.4 406.0,467.4 412.4,460.1 418.8,434.0 425.2,428.2 431.6,454.1 438.0,472.7 444.4,468.5 450.8,462.1 457.2,467.8 463.7,436.9 470.1,428.4 476.5,424.7 482.9,437.7 489.3,471.5 495.7,469.4 502.1,466.2 508.5,467.0 514.9,487.1 521.4,464.1 527.8,468.5 534.2,460.8 540.6,471.3 547.0,467.5 553.4,465.2 559.8,471.4 566.2,467.5 572.6,474.8 579.0,427.4 585.5,425.4 591.9,431.3 598.3,426.8 604.7,460.0 611.1,470.2 617.5,461.1 623.9,466.7 630.3,458.8 636.7,468.7 643.1,442.3 649.5,443.2 656.0,463.2 662.4,471.7 668.8,465.2 675.2,449.7 681.6,441.8 688.0,435.9 694.4,421.0 700.8,450.3 707.2,463.3" fill="none" stroke="#bb2a62" stroke-width="1.1" stroke-linejoin="round" />
<polyline points="341.9,476.5 348.3,472.5 354.7,474.8 361.1,430.4 367.5,436.9 373.9,442.7 380.3,462.8 386.7,467.7 393.2,484.7 399.6,487.1 406.0,474.2 412.4,464.6 418.8,447.9 425.2,442.2 431.6,449.1 438.0,483.1 444.4,488.5 450.8,487.5 457.2,492.5 463.7,472.1 470.1,452.8 476.5,437.0 482.9,453.9 489.3,489.4 495.7,488.7 502.1,490.9 508.5,490.5 514.9,493.0 521.4,491.6 527.8,491.8 534.2,491.2 540.6,492.5 547.0,491.2 553.4,491.3 559.8,492.4 566.2,490.0 572.6,485.6 579.0,442.6 585.5,431.4 591.9,444.2 598.3,427.0 604.7,467.1 611.1,474.2 617.5,473.3 623.9,470.7 630.3,472.1 636.7,475.2 643.1,449.4 649.5,450.6 656.0,471.3 662.4,474.0 668.8,473.4 675.2,463.4 681.6,449.2 688.0,448.1 694.4,429.2 700.8,451.1 707.2,478.3" fill="none" stroke="#d4b37d" stroke-width="1.1" stroke-linejoin="round" />
<polyline points="341.9,470.8 348.3,470.0 354.7,474.3 361.1,431.8 367.5,425.3 373.9,435.0 380.3,463.4 386.7,458.7 393.2,472.9 399.6,481.7 406.0,471.6 412.4,466.5 418.8,445.2 425.2,430.7 431.6,468.4 438.0,480.8 444.4,480.6 450.8,461.6 457.2,465.7 463.7,452.4 470.1,444.6 476.5,428.8 482.9,434.6 489.3,479.7 495.7,475.5 502.1,469.5 508.5,472.3 514.9,493.0 521.4,471.4 527.8,477.2 534.2,472.7 540.6,475.4 547.0,474.7 553.4,472.0 559.8,475.0 566.2,476.0 572.6,480.0 579.0,432.0 585.5,431.1 591.9,439.2 598.3,428.7 604.7,465.6 611.1,474.2 617.5,469.5 623.9,467.4 630.3,469.0 636.7,474.3 643.1,447.2 649.5,449.1 656.0,467.1 662.4,480.5 668.8,464.2 675.2,458.5 681.6,446.8 688.0,445.7 694.4,426.7 700.8,448.6 707.2,469.3" fill="none" stroke="#bb2a62" stroke-width="1.1" stroke-linejoin="round" />
<polyline points="341.9,442.3 348.3,450.4 354.7,449.9 361.1,448.1 367.5,456.5 373.9,459.9 380.3,457.8 386.7,446.0 393.2,451.7 399.6,455.2 406.0,458.8 412.4,460.4 418.8,430.7 425.2,422.9 431.6,445.6 438.0,451.9 444.4,486.8 450.8,483.4 457.2,488.6 463.7,457.2 470.1,437.4 476.5,417.5 482.9,433.0 489.3,486.1 495.7,486.7 502.1,486.8 508.5,488.7 514.9,489.7 521.4,488.5 527.8,489.1 534.2,488.5 540.6,490.1 547.0,488.0 553.4,489.5 559.8,487.6 566.2,483.8 572.6,480.6 579.0,420.7 585.5,419.4 591.9,431.2 598.3,417.1 604.7,451.3 611.1,455.7 617.5,457.8 623.9,458.5 630.3,454.2 636.7,454.7 643.1,434.8 649.5,438.7 656.0,456.3 662.4,461.3 668.8,457.6 675.2,447.0 681.6,427.3 688.0,430.3 694.4,419.1 700.8,426.6 707.2,459.4" fill="none" stroke="#d4b37d" stroke-width="1.1" stroke-linejoin="round" />
<polyline points="341.9,477.4 348.3,464.8 354.7,471.3 361.1,434.8 367.5,440.4 373.9,438.7 380.3,451.6 386.7,464.2 393.2,475.5 399.6,478.0 406.0,472.9 412.4,457.4 418.8,449.0 425.2,436.6 431.6,447.5 438.0,464.3 444.4,488.5 450.8,487.4 457.2,491.4 463.7,466.1 470.1,452.1 476.5,429.9 482.9,442.2 489.3,489.2 495.7,488.5 502.1,490.1 508.5,492.4 514.9,492.6 521.4,492.0 527.8,492.2 534.2,490.7 540.6,490.9 547.0,492.5 553.4,489.3 559.8,488.1 566.2,489.3 572.6,483.4 579.0,438.2 585.5,427.3 591.9,440.0 598.3,428.5 604.7,466.2 611.1,470.9 617.5,469.9 623.9,471.5 630.3,468.5 636.7,475.4 643.1,438.9 649.5,447.9 656.0,462.0 662.4,476.6 668.8,467.1 675.2,457.4 681.6,441.0 688.0,443.8 694.4,429.2 700.8,450.8 707.2,473.1" fill="none" stroke="#d4b37d" stroke-width="1.1" stroke-linejoin="round" />
<polyline points="341.9,471.6 348.3,466.7 354.7,474.8 361.1,427.7 367.5,420.2 373.9,437.4 380.3,458.9 386.7,459.1 393.2,462.5 399.6,477.5 406.0,465.5 412.4,460.3 418.8,439.5 425.2,427.2 431.6,450.3 438.0,460.5 444.4,487.3 450.8,485.7 457.2,491.3 463.7,464.4 470.1,450.1 476.5,428.1 482.9,440.6 489.3,487.8 495.7,488.0 502.1,490.5 508.5,490.9 514.9,490.2 521.4,489.8 527.8,490.0 534.2,492.2 540.6,491.0 547.0,490.5 553.4,490.5 559.8,490.5 566.2,489.0 572.6,482.5 579.0,434.4 585.5,424.3 591.9,434.7 598.3,418.7 604.7,461.1 611.1,460.1 617.5,465.2 623.9,463.9 630.3,467.0 636.7,471.4 643.1,446.7 649.5,443.3 656.0,465.1 662.4,465.9 668.8,461.0 675.2,455.1 681.6,447.2 688.0,437.2 694.4,428.3 700.8,440.6 707.2,466.0" fill="none" stroke="#d4b37d" stroke-width="1.1" stroke-linejoin="round" />
<polyline points="341.9,439.0 348.3,447.7 354.7,444.7 361.1,442.6 367.5,445.2 373.9,452.9 380.3,450.3 386.7,442.6 393.2,445.2 399.6,445.2 406.0,452.9 412.4,455.4 418.8,451.2 425.2,440.1 431.6,459.8 438.0,473.0 444.4,489.5 450.8,489.0 457.2,492.5 463.7,478.4 470.1,458.5 476.5,439.0 482.9,446.0 489.3,489.3 495.7,489.4 502.1,491.4 508.5,493.0 514.9,492.7 521.4,492.2 527.8,492.5 534.2,491.9 540.6,492.2 547.0,490.5 553.4,490.9 559.8,489.3 566.2,489.6 572.6,484.9 579.0,445.3 585.5,431.7 591.9,441.1 598.3,434.0 604.7,469.1 611.1,474.1 617.5,474.6 623.9,474.2 630.3,477.3 636.7,481.9 643.1,452.4 649.5,454.7 656.0,469.3 662.4,473.5 668.8,469.1 675.2,465.3 681.6,458.1 688.0,449.8 694.4,435.2 700.8,448.3 707.2,479.3" fill="none" stroke="#d4b37d" stroke-width="1.1" stroke-linejoin="round" />
<polyline points="341.9,470.9 348.3,470.9 354.7,476.0 361.1,429.8 367.5,432.3 373.9,437.5 380.3,460.6 386.7,463.2 393.2,476.0 399.6,481.1 406.0,473.4 412.4,465.7 418.8,442.6 425.2,437.5 431.6,463.2 438.0,491.9 444.4,470.9 450.8,443.1 457.2,453.9 463.7,438.0 470.1,433.9 476.5,431.8 482.9,431.8 489.3,475.5 495.7,459.0 502.1,451.3 508.5,451.3 514.9,488.9 521.4,459.0 527.8,451.3 534.2,449.3 540.6,454.9 547.0,452.4 553.4,448.3 559.8,451.3 566.2,451.3 572.6,460.1 579.0,451.3 585.5,432.3 591.9,437.5 598.3,432.3 604.7,468.3 611.1,468.3 617.5,468.3 623.9,465.7 630.3,465.7 636.7,467.3 643.1,445.2 649.5,447.7 656.0,468.3 662.4,470.9 668.8,468.3 675.2,463.2 681.6,447.7 688.0,447.7 694.4,432.3 700.8,447.7 707.2,468.3" fill="none" stroke="#1f9a9b" stroke-width="1.1" stroke-linejoin="round" />
<polyline points="341.9,468.3 348.3,467.2 354.7,475.4 361.1,437.2 367.5,438.5 373.9,437.7 380.3,462.5 386.7,466.5 393.2,473.2 399.6,484.0 406.0,472.9 412.4,463.2 418.8,448.1 425.2,438.8 431.6,457.6 438.0,469.3 444.4,489.5 450.8,486.3 457.2,492.3 463.7,474.9 470.1,452.7 476.5,433.8 482.9,451.1 489.3,489.3 495.7,489.5 502.1,491.2 508.5,492.0 514.9,492.1 521.4,492.1 527.8,491.9 534.2,492.1 540.6,491.1 547.0,491.2 553.4,490.3 559.8,490.3 566.2,489.4 572.6,484.4 579.0,441.4 585.5,433.3 591.9,446.8 598.3,435.1 604.7,469.7 611.1,474.3 617.5,470.3 623.9,470.5 630.3,465.2 636.7,474.5 643.1,455.5 649.5,450.5 656.0,467.8 662.4,472.4 668.8,470.8 675.2,463.0 681.6,444.6 688.0,445.7 694.4,428.5 700.8,447.0 707.2,473.7" fill="none" stroke="#d4b37d" stroke-width="1.1" stroke-linejoin="round" />
<polyline points="341.9,464.6 348.3,463.8 354.7,463.2 361.1,423.5 367.5,426.9 373.9,430.8 380.3,452.7 386.7,459.5 393.2,461.8 399.6,470.7 406.0,463.1 412.4,455.1 418.8,430.0 425.2,424.1 431.6,447.8 438.0,458.0 444.4,485.6 450.8,484.2 457.2,490.2 463.7,453.4 470.1,431.9 476.5,419.8 482.9,444.0 489.3,488.1 495.7,485.5 502.1,488.1 508.5,489.0 514.9,489.1 521.4,489.4 527.8,488.2 534.2,489.3 540.6,488.5 547.0,488.7 553.4,488.3 559.8,486.0 566.2,487.8 572.6,482.7 579.0,423.7 585.5,424.5 591.9,429.6 598.3,423.7 604.7,445.0 611.1,447.2 617.5,452.0 623.9,443.7 630.3,444.8 636.7,445.2 643.1,446.9 649.5,442.9 656.0,446.9 662.4,439.8 668.8,439.4 675.2,440.2 681.6,443.8 688.0,446.1 694.4,448.0 700.8,448.5 707.2,446.9" fill="none" stroke="#d4b37d" stroke-width="1.1" stroke-linejoin="round" />
<polyline points="341.9,472.0 348.3,462.3 354.7,474.9 361.1,433.2 367.5,432.4 373.9,434.5 380.3,461.1 386.7,461.8 393.2,469.2 399.6,475.1 406.0,466.6 412.4,455.8 418.8,441.6 425.2,434.5 431.6,453.1 438.0,468.5 444.4,489.4 450.8,485.5 457.2,490.9 463.7,473.7 470.1,448.5 476.5,430.1 482.9,446.2 489.3,488.6 495.7,487.5 502.1,489.4 508.5,492.5 514.9,490.7 521.4,491.7 527.8,489.7 534.2,491.4 540.6,490.5 547.0,490.6 553.4,490.6 559.8,489.8 566.2,488.5 572.6,481.6 579.0,434.8 585.5,425.7 591.9,437.4 598.3,426.8 604.7,445.0 611.1,452.4 617.5,447.0 623.9,446.7 630.3,452.1 636.7,451.8 643.1,448.3 649.5,447.1 656.0,444.9 662.4,446.2 668.8,446.7 675.2,445.3 681.6,450.6 688.0,455.5 694.4,449.9 700.8,450.3 707.2,454.0" fill="none" stroke="#d4b37d" stroke-width="1.1" stroke-linejoin="round" />
<polyline points="341.9,477.8 348.3,474.7 354.7,477.7 361.1,443.5 367.5,431.2 373.9,440.7 380.3,459.2 386.7,472.9 393.2,473.0 399.6,480.9 406.0,474.6 412.4,469.1 418.8,449.1 425.2,442.9 431.6,454.6 438.0,465.7 444.4,489.4 450.8,487.3 457.2,493.0 463.7,471.2 470.1,449.8 476.5,433.3 482.9,446.0 489.3,489.9 495.7,491.4 502.1,490.6 508.5,490.9 514.9,493.0 521.4,489.5 527.8,490.5 534.2,492.5 540.6,491.0 547.0,491.1 553.4,489.9 559.8,491.4 566.2,490.1 572.6,485.4 579.0,441.1 585.5,435.3 591.9,444.8 598.3,434.1 604.7,472.3 611.1,463.1 617.5,470.9 623.9,466.8 630.3,465.8 636.7,476.8 643.1,455.3 649.5,456.2 656.0,473.8 662.4,473.1 668.8,462.2 675.2,464.4 681.6,455.1 688.0,449.9 694.4,430.7 700.8,447.6 707.2,486.2" fill="none" stroke="#d4b37d" stroke-width="1.1" stroke-linejoin="round" />
<polyline points="341.9,478.2 348.3,466.3 354.7,480.8 361.1,425.8 367.5,433.6 373.9,439.1 380.3,465.1 386.7,469.7 393.2,481.8 399.6,488.9 406.0,471.1 412.4,465.2 418.8,444.1 425.2,429.8 431.6,468.4 438.0,477.9 444.4,479.1 450.8,468.8 457.2,469.2 463.7,452.4 470.1,436.9 476.5,438.1 482.9,446.9 489.3,479.7 495.7,477.3 502.1,470.5 508.5,475.3 514.9,492.2 521.4,471.9 527.8,475.8 534.2,472.9 540.6,475.9 547.0,474.6 553.4,469.7 559.8,473.6 566.2,469.0 572.6,480.4 579.0,440.7 585.5,437.1 591.9,446.3 598.3,429.4 604.7,465.0 611.1,474.6 617.5,471.0 623.9,472.5 630.3,469.3 636.7,476.4 643.1,447.4 649.5,448.9 656.0,472.3 662.4,473.0 668.8,468.4 675.2,462.3 681.6,455.7 688.0,444.8 694.4,433.0 700.8,450.7 707.2,469.2" fill="none" stroke="#bb2a62" stroke-width="1.1" stroke-linejoin="round" />
<polyline points="341.9,480.3 348.3,477.5 354.7,479.9 361.1,433.4 367.5,443.3 373.9,438.5 380.3,460.8 386.7,465.3 393.2,477.4 399.6,485.2 406.0,470.0 412.4,463.3 418.8,439.4 425.2,439.1 431.6,457.2 438.0,467.2 444.4,489.7 450.8,486.9 457.2,491.0 463.7,468.3 470.1,454.5 476.5,430.5 482.9,448.1 489.3,488.6 495.7,489.1 502.1,491.1 508.5,490.7 514.9,492.0 521.4,491.9 527.8,492.4 534.2,492.0 540.6,491.7 547.0,491.0 553.4,490.5 559.8,489.5 566.2,488.8 572.6,484.6 579.0,442.6 585.5,435.3 591.9,439.2 598.3,435.2 604.7,463.0 611.1,470.3 617.5,471.1 623.9,470.3 630.3,462.0 636.7,475.7 643.1,451.7 649.5,456.7 656.0,476.7 662.4,476.0 668.8,463.8 675.2,461.1 681.6,450.5 688.0,456.6 694.4,425.9 700.8,446.6 707.2,483.5" fill="none" stroke="#d4b37d" stroke-width="1.1" stroke-linejoin="round" />
<polyline points="341.9,465.9 348.3,455.2 354.7,467.3 361.1,425.1 367.5,426.5 373.9,430.8 380.3,453.8 386.7,462.1 393.2,470.4 399.6,476.8 406.0,469.2 412.4,452.6 418.8,439.7 425.2,430.1 431.6,447.3 438.0,464.7 444.4,486.6 450.8,484.9 457.2,489.5 463.7,467.6 470.1,447.4 476.5,432.0 482.9,435.4 489.3,488.2 495.7,487.3 502.1,487.8 508.5,491.4 514.9,489.8 521.4,490.5 527.8,490.1 534.2,490.2 540.6,489.4 547.0,489.9 553.4,490.4 559.8,489.4 566.2,487.9 572.6,482.7 579.0,435.7 585.5,426.5 591.9,434.3 598.3,420.2 604.7,460.2 611.1,465.1 617.5,462.2 623.9,466.5 630.3,458.8 636.7,473.1 643.1,439.4 649.5,447.2 656.0,458.3 662.4,466.2 668.8,461.8 675.2,454.3 681.6,440.8 688.0,439.9 694.4,414.8 700.8,437.4 707.2,465.8" fill="none" stroke="#d4b37d" stroke-width="1.1" stroke-linejoin="round" />
<polyline points="341.9,477.1 348.3,464.8 354.7,475.5 361.1,426.6 367.5,424.3 373.9,432.0 380.3,468.0 386.7,454.2 393.2,477.0 399.6,483.6 406.0,469.0 412.4,462.8 418.8,439.5 425.2,434.1 431.6,468.2 438.0,472.7 444.4,479.2 450.8,472.8 457.2,464.9 463.7,452.4 470.1,442.4 476.5,436.4 482.9,436.4 489.3,471.7 495.7,471.8 502.1,466.5 508.5,476.9 514.9,488.6 521.4,470.3 527.8,470.5 534.2,466.6 540.6,473.6 547.0,471.7 553.4,472.8 559.8,473.0 566.2,469.9 572.6,479.9 579.0,435.1 585.5,430.1 591.9,444.4 598.3,428.3 604.7,465.0 611.1,471.9 617.5,469.7 623.9,469.8 630.3,476.0 636.7,475.3 643.1,442.7 649.5,452.3 656.0,459.8 662.4,469.2 668.8,469.3 675.2,459.2 681.6,446.6 688.0,447.0 694.4,432.8 700.8,444.7 707.2,473.5" fill="none" stroke="#bb2a62" stroke-width="1.1" stroke-linejoin="round" />
<polyline points="341.9,478.2 348.3,472.9 354.7,477.3 361.1,429.2 367.5,432.6 373.9,440.5 380.3,461.3 386.7,467.7 393.2,477.9 399.6,483.8 406.0,471.6 412.4,461.7 418.8,448.8 425.2,437.1 431.6,454.4 438.0,469.5 444.4,489.6 450.8,487.1 457.2,493.0 463.7,474.6 470.1,455.2 476.5,435.1 482.9,446.5 489.3,489.7 495.7,489.8 502.1,491.0 508.5,491.9 514.9,493.0 521.4,490.8 527.8,493.0 534.2,492.4 540.6,491.5 547.0,491.5 553.4,490.6 559.8,492.0 566.2,489.4 572.6,485.2 579.0,435.3 585.5,439.7 591.9,443.2 598.3,430.4 604.7,468.9 611.1,470.5 617.5,470.9 623.9,469.6 630.3,464.9 636.7,476.0 643.1,446.4 649.5,452.9 656.0,467.7 662.4,478.2 668.8,463.0 675.2,461.5 681.6,445.6 688.0,441.9 694.4,432.7 700.8,451.5 707.2,485.5" fill="none" stroke="#d4b37d" stroke-width="1.1" stroke-linejoin="round" />
<polyline points="341.9,485.6 348.3,473.8 354.7,479.6 361.1,435.2 367.5,437.1 373.9,439.4 380.3,467.5 386.7,471.1 393.2,481.7 399.6,493.0 406.0,475.8 412.4,478.3 418.8,450.9 425.2,438.1 431.6,472.6 438.0,479.7 444.4,489.9 450.8,475.1 457.2,484.2 463.7,458.8 470.1,444.9 476.5,443.5 482.9,449.0 489.3,479.7 495.7,479.2 502.1,475.5 508.5,475.6 514.9,493.0 521.4,480.1 527.8,476.1 534.2,475.4 540.6,483.7 547.0,479.9 553.4,479.3 559.8,480.4 566.2,475.7 572.6,487.9 579.0,445.9 585.5,440.7 591.9,449.0 598.3,441.4 604.7,480.6 611.1,480.0 617.5,478.4 623.9,478.3 630.3,474.8 636.7,485.4 643.1,450.1 649.5,462.0 656.0,474.4 662.4,482.9 668.8,472.3 675.2,473.9 681.6,450.8 688.0,448.6 694.4,433.0 700.8,444.4 707.2,486.1" fill="none" stroke="#bb2a62" stroke-width="1.1" stroke-linejoin="round" />
<polyline points="341.9,488.0 348.3,478.8 354.7,488.2 361.1,436.0 367.5,442.9 373.9,450.0 380.3,472.5 386.7,475.0 393.2,487.9 399.6,493.0 406.0,485.1 412.4,478.0 418.8,447.3 425.2,447.2 431.6,474.4 438.0,486.1 444.4,487.5 450.8,479.1 457.2,475.9 463.7,458.8 470.1,453.2 476.5,440.8 482.9,448.7 489.3,483.1 495.7,481.4 502.1,472.7 508.5,484.0 514.9,493.0 521.4,481.3 527.8,479.4 534.2,480.9 540.6,482.9 547.0,479.3 553.4,480.6 559.8,477.7 566.2,479.7 572.6,479.6 579.0,446.9 585.5,450.5 591.9,453.6 598.3,445.8 604.7,479.2 611.1,479.8 617.5,477.6 623.9,476.3 630.3,476.4 636.7,488.8 643.1,458.8 649.5,459.4 656.0,486.1 662.4,493.0 668.8,477.5 675.2,478.1 681.6,455.4 688.0,460.8 694.4,431.8 700.8,460.7 707.2,485.2" fill="none" stroke="#bb2a62" stroke-width="1.1" stroke-linejoin="round" />
<polyline points="341.9,477.1 348.3,471.1 354.7,482.2 361.1,439.8 367.5,429.7 373.9,437.7 380.3,463.9 386.7,468.7 393.2,476.5 399.6,471.3 406.0,470.8 412.4,464.9 418.8,446.8 425.2,445.1 431.6,454.2 438.0,465.1 444.4,488.5 450.8,486.4 457.2,492.3 463.7,474.3 470.1,451.8 476.5,433.0 482.9,451.0 489.3,487.9 495.7,489.9 502.1,490.7 508.5,493.0 514.9,490.5 521.4,491.9 527.8,491.8 534.2,491.6 540.6,491.9 547.0,491.8 553.4,490.5 559.8,490.9 566.2,489.0 572.6,483.1 579.0,436.5 585.5,426.5 591.9,438.0 598.3,425.3 604.7,447.7 611.1,450.3 617.5,450.3 623.9,455.4 630.3,452.9 636.7,445.2 643.1,447.7 649.5,447.7 656.0,447.7 662.4,445.2 668.8,452.9 675.2,463.2 681.6,445.2 688.0,448.0 694.4,430.8 700.8,445.4 707.2,477.5" fill="none" stroke="#d4b37d" stroke-width="1.1" stroke-linejoin="round" />
<polyline points="341.9,479.5 348.3,476.4 354.7,484.5 361.1,447.2 367.5,448.2 373.9,451.2 380.3,471.5 386.7,475.5 393.2,482.9 399.6,490.7 406.0,481.2 412.4,474.5 418.8,457.9 425.2,437.8 431.6,460.0 438.0,475.2 444.4,491.0 450.8,489.4 457.2,492.4 463.7,481.9 470.1,466.0 476.5,437.9 482.9,450.5 489.3,491.2 495.7,490.9 502.1,491.4 508.5,493.0 514.9,493.0 521.4,492.9 527.8,492.9 534.2,493.0 540.6,492.9 547.0,492.7 553.4,491.8 559.8,491.7 566.2,491.3 572.6,485.7 579.0,451.3 585.5,440.7 591.9,446.6 598.3,439.9 604.7,475.1 611.1,477.0 617.5,478.8 623.9,482.7 630.3,479.2 636.7,480.5 643.1,458.8 649.5,465.9 656.0,473.5 662.4,483.2 668.8,481.2 675.2,463.7 681.6,453.5 688.0,455.5 694.4,435.2 700.8,453.3 707.2,486.2" fill="none" stroke="#d4b37d" stroke-width="1.1" stroke-linejoin="round" />
<polyline points="354.7,470.9 361.1,404.1 367.5,427.2" fill="none" stroke="#bb2a62" stroke-width="0.9" stroke-linejoin="round" />
<polyline points="418.8,437.5 425.2,413.8 431.6,452.9" fill="none" stroke="#bb2a62" stroke-width="0.9" stroke-linejoin="round" />
<polyline points="591.9,437.5 598.3,416.9 604.7,473.4" fill="none" stroke="#bb2a62" stroke-width="0.9" stroke-linejoin="round" />
</svg>
</body></html>
